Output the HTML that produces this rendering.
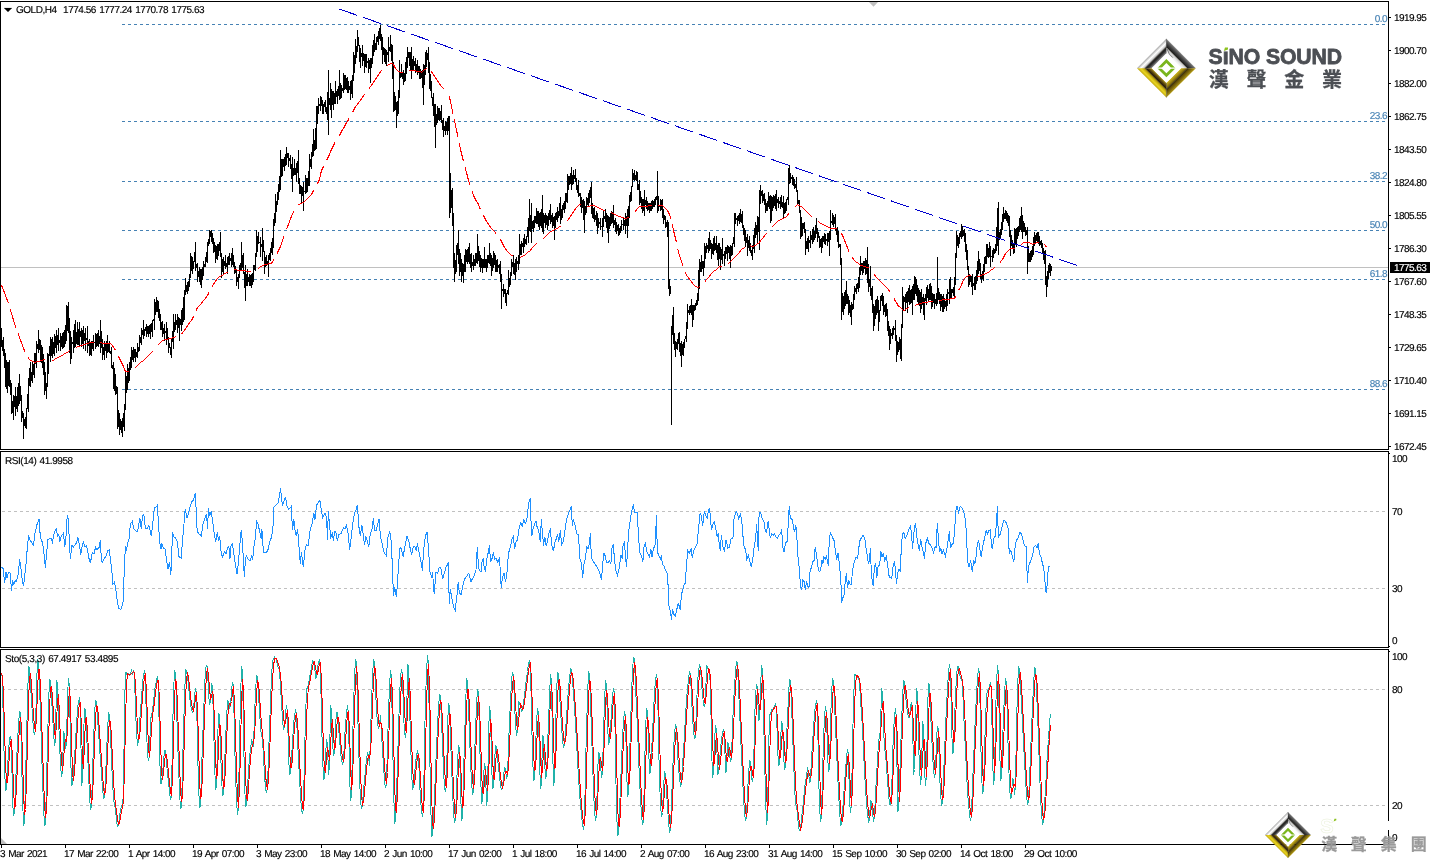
<!DOCTYPE html>
<html lang="en"><head><meta charset="utf-8"><title>GOLD,H4</title>
<style>
html,body{margin:0;padding:0;background:#fff}
body{width:1430px;height:863px;overflow:hidden;position:relative}
svg{position:absolute;left:0;top:0;display:block}
text{font-family:"Liberation Sans",sans-serif}
.cj{font-family:"Liberation Sans","Noto Sans CJK TC",sans-serif}
</style></head>
<body>
<svg width="1430" height="863" viewBox="0 0 1430 863">
<rect width="1430" height="863" fill="#fff"/>
<g shape-rendering="crispEdges" fill="none" stroke="#000" stroke-width="1">
<path d="M0.5 1V450M0 1.5H1389M1388.5 1V450M0 449.5H1389"/>
<path d="M0.5 451V648M0 451.5H1389M1388.5 451V648M0 647.5H1389"/>
<path d="M0.5 649V845M0 649.5H1389M1388.5 649V845M0 844.5H1389"/>
<path d="M1389 17.5H1391M1389 50.5H1391M1389 83.5H1391M1389 116.5H1391M1389 149.5H1391M1389 182.5H1391M1389 215.5H1391M1389 248.5H1391M1389 281.5H1391M1389 314.5H1391M1389 347.5H1391M1389 380.5H1391M1389 413.5H1391M1389 446.5H1391"/>
<path d="M1389 453.5H1390M1389 646.5H1390M1389 651.5H1390"/>
<path d="M1.5 845V848M65.5 845V848M129.5 845V848M193.5 845V848M257.5 845V848M321.5 845V848M385.5 845V848M449.5 845V848M513.5 845V848M577.5 845V848M641.5 845V848M705.5 845V848M769.5 845V848M833.5 845V848M897.5 845V848M961.5 845V848M1025.5 845V848"/>
</g>
<path d="M869 2H878L873.5 6.8Z" fill="#c0c0c0"/>
<path d="M1 838V844H7Z" fill="#c0c0c0"/>
<path d="M1 267.5H1388" stroke="#c0c0c0" stroke-width="1" shape-rendering="crispEdges"/>
<g shape-rendering="crispEdges" stroke="#4682b4" stroke-width="1" stroke-dasharray="3 3">
<path d="M122 24.5H1388"/>
<path d="M122 121.5H1388"/>
<path d="M122 181.5H1388"/>
<path d="M122 230.5H1388"/>
<path d="M122 279.5H1388"/>
<path d="M122 389.5H1388"/>
</g>
<g shape-rendering="crispEdges" stroke="#c0c0c0" stroke-width="1" stroke-dasharray="3 3">
<path d="M2 511.5H1388"/>
<path d="M2 588.5H1388"/>
<path d="M2 689.5H1388"/>
<path d="M2 805.5H1388"/>
</g>
<path d="M1.5 328V347M2.5 340V351M3.5 337V356M4.5 349V368M5.5 353V387M6.5 360V389M7.5 362V393M8.5 362V386M9.5 360V387M10.5 380V395M11.5 383V414M12.5 401V413M13.5 395V420M14.5 396V407M15.5 387V416M16.5 396V409M17.5 387V412M18.5 383V406M19.5 374V404M20.5 386V401M21.5 395V422M22.5 411V418M23.5 413V439M24.5 419V426M25.5 417V428M26.5 408V429M27.5 394V409M28.5 378V412M29.5 368V386M30.5 362V387M31.5 372V381M32.5 362V383M33.5 364V375M34.5 353V378M35.5 353V364M36.5 341V368M37.5 344V349M38.5 330V353M39.5 339V350M40.5 340V362M41.5 345V363M42.5 347V368M43.5 354V375M44.5 362V395M45.5 372V391M46.5 383V399M47.5 353V387M48.5 354V374M49.5 346V356M50.5 337V362M51.5 339V356M52.5 337V358M53.5 342V354M54.5 334V356M55.5 336V348M56.5 330V353M57.5 335V345M58.5 328V351M59.5 340V343M60.5 333V351M61.5 336V347M62.5 333V349M63.5 332V348M64.5 330V347M65.5 325V344M66.5 305V341M67.5 306V331M68.5 302V333M69.5 318V353M70.5 331V364M71.5 337V359M72.5 342V344M73.5 330V353M74.5 324V348M75.5 320V347M76.5 332V344M77.5 322V345M78.5 329V345M79.5 322V347M80.5 331V337M81.5 328V347M82.5 330V344M83.5 326V349M84.5 333V341M85.5 328V351M86.5 338V340M87.5 326V353M88.5 341V346M89.5 339V356M90.5 342V355M91.5 341V356M92.5 341V349M93.5 335V351M94.5 342V343M95.5 333V349M96.5 334V347M97.5 333V346M98.5 330V347M99.5 336V344M100.5 320V353M101.5 331V348M102.5 339V360M103.5 347V355M104.5 341V360M105.5 344V351M106.5 341V358M107.5 335V353M108.5 343V352M109.5 341V353M110.5 351V354M111.5 347V368M112.5 365V369M113.5 362V389M114.5 368V391M115.5 374V395M116.5 386V394M117.5 387V429M118.5 410V427M119.5 413V435M120.5 419V430M121.5 421V433M122.5 418V437M123.5 413V427M124.5 404V431M125.5 370V410M126.5 376V393M127.5 364V390M128.5 368V383M129.5 362V381M130.5 357V370M131.5 347V368M132.5 350V360M133.5 347V362M134.5 349V358M135.5 349V362M136.5 352V357M137.5 343V358M138.5 347V352M139.5 335V351M140.5 337V343M141.5 328V345M142.5 330V335M143.5 320V339M144.5 329V336M145.5 327V331M146.5 324V337M147.5 326V334M148.5 326V337M149.5 325V334M150.5 324V339M151.5 323V332M152.5 320V337M153.5 319V321M154.5 299V330M155.5 302V315M156.5 297V312M157.5 300V312M158.5 301V318M159.5 309V321M160.5 314V330M161.5 322V330M162.5 321V337M163.5 328V334M164.5 324V341M165.5 331V333M166.5 322V345M167.5 328V340M168.5 337V353M169.5 343V348M170.5 347V355M171.5 338V358M172.5 331V342M173.5 314V349M174.5 322V332M175.5 314V330M176.5 320V325M177.5 314V333M178.5 317V328M179.5 318V341M180.5 319V325M181.5 310V331M182.5 308V325M183.5 297V322M184.5 290V320M185.5 278V295M186.5 285V292M187.5 282V294M188.5 281V291M189.5 274V287M190.5 253V278M191.5 256V271M192.5 257V274M193.5 261V269M194.5 252V262M195.5 242V271M196.5 264V268M197.5 263V282M198.5 271V277M199.5 267V282M200.5 269V285M201.5 269V288M202.5 267V280M203.5 261V276M204.5 264V267M205.5 257V267M206.5 252V262M207.5 242V263M208.5 239V246M209.5 230V244M210.5 231V237M211.5 230V242M212.5 233V244M213.5 238V253M214.5 242V252M215.5 245V263M216.5 246V259M217.5 244V260M218.5 244V256M219.5 242V251M220.5 232V257M221.5 253V278M222.5 259V272M223.5 257V274M224.5 261V266M225.5 255V269M226.5 263V267M227.5 257V274M228.5 256V265M229.5 253V265M230.5 258V261M231.5 253V267M232.5 248V265M233.5 255V267M234.5 262V274M235.5 266V273M236.5 269V286M237.5 277V282M238.5 274V289M239.5 265V278M240.5 263V271M241.5 242V270M242.5 255V268M243.5 253V274M244.5 272V288M245.5 265V301M246.5 274V286M247.5 269V286M248.5 277V282M249.5 274V286M250.5 275V286M251.5 274V288M252.5 273V285M253.5 265V282M254.5 265V270M255.5 253V271M256.5 230V257M257.5 236V252M258.5 232V244M259.5 242V243M260.5 237V257M261.5 244V247M262.5 228V261M263.5 240V252M264.5 251V274M265.5 257V267M266.5 255V266M267.5 261V265M268.5 255V277M269.5 253V260M270.5 248V261M271.5 242V253M272.5 238V255M273.5 219V248M274.5 213V226M275.5 194V223M276.5 201V212M277.5 192V205M278.5 184V200M279.5 176V192M280.5 150V190M281.5 159V177M282.5 159V176M283.5 159V167M284.5 157V171M285.5 154V166M286.5 147V165M287.5 153V158M288.5 153V167M289.5 158V161M290.5 155V169M291.5 164V179M292.5 157V192M293.5 168V176M294.5 159V175M295.5 168V175M296.5 163V182M297.5 161V173M298.5 150V184M299.5 178V194M300.5 185V194M301.5 186V203M302.5 187V196M303.5 182V211M304.5 191V192M305.5 175V194M306.5 178V193M307.5 178V192M308.5 171V186M309.5 154V186M310.5 159V167M311.5 152V169M312.5 144V157M313.5 129V156M314.5 140V151M315.5 128V150M316.5 106V149M317.5 106V124M318.5 98V114M319.5 104V106M320.5 96V111M321.5 97V106M322.5 100V114M323.5 104V114M324.5 102V107M325.5 100V112M326.5 107V114M327.5 92V120M328.5 70V135M329.5 98V105M330.5 83V110M331.5 89V118M332.5 91V105M333.5 91V110M334.5 93V104M335.5 81V104M336.5 91V97M337.5 89V104M338.5 86V96M339.5 70V100M340.5 83V99M341.5 85V98M342.5 88V91M343.5 73V93M344.5 75V90M345.5 75V89M346.5 78V90M347.5 77V93M348.5 81V93M349.5 86V90M350.5 81V100M351.5 80V94M352.5 75V98M353.5 52V81M354.5 55V73M355.5 39V64M356.5 46V58M357.5 30V52M358.5 37V46M359.5 45V62M360.5 48V68M361.5 53V57M362.5 45V66M363.5 53V61M364.5 54V73M365.5 54V67M366.5 54V68M367.5 61V63M368.5 58V73M369.5 60V69M370.5 58V83M371.5 58V68M372.5 45V64M373.5 40V56M374.5 34V52M375.5 43V50M376.5 37V50M377.5 36V42M378.5 31V45M379.5 28V39M380.5 25V41M381.5 34V50M382.5 37V64M383.5 47V55M384.5 48V62M385.5 49V64M386.5 50V66M387.5 52V55M388.5 37V62M389.5 47V51M390.5 35V52M391.5 44V61M392.5 45V79M393.5 62V112M394.5 92V111M395.5 96V110M396.5 102V128M397.5 101V116M398.5 90V114M399.5 60V98M400.5 72V78M401.5 64V77M402.5 72V79M403.5 70V85M404.5 73V82M405.5 62V81M406.5 57V74M407.5 47V68M408.5 52V58M409.5 52V66M410.5 52V71M411.5 47V79M412.5 59V70M413.5 56V70M414.5 61V66M415.5 58V73M416.5 64V72M417.5 60V75M418.5 66V73M419.5 66V79M420.5 69V79M421.5 71V78M422.5 70V88M423.5 64V105M424.5 65V85M425.5 52V75M426.5 50V67M427.5 53V60M428.5 47V73M429.5 62V89M430.5 74V91M431.5 81V98M432.5 97V106M433.5 93V116M434.5 104V127M435.5 104V148M436.5 114V125M437.5 106V123M438.5 108V120M439.5 108V121M440.5 111V120M441.5 105V123M442.5 120V130M443.5 118V137M444.5 126V131M445.5 121V135M446.5 122V131M447.5 118V135M448.5 116V131M449.5 116V218M450.5 173V213M451.5 190V208M452.5 188V226M453.5 213V268M454.5 253V282M455.5 260V274M456.5 245V272M457.5 243V255M458.5 230V264M459.5 249V276M460.5 253V272M461.5 259V282M462.5 263V276M463.5 264V283M464.5 255V272M465.5 249V272M466.5 250V262M467.5 249V264M468.5 247V262M469.5 243V264M470.5 254V268M471.5 253V272M472.5 262V266M473.5 255V270M474.5 259V266M475.5 253V266M476.5 253V263M477.5 234V264M478.5 246V261M479.5 251V267M480.5 255V272M481.5 258V268M482.5 259V273M483.5 259V268M484.5 247V268M485.5 259V268M486.5 259V272M487.5 255V268M488.5 255V263M489.5 243V264M490.5 253V266M491.5 255V276M492.5 258V271M493.5 251V268M494.5 253V265M495.5 255V272M496.5 260V272M497.5 259V272M498.5 265V268M499.5 264V274M500.5 261V282M501.5 274V309M502.5 289V291M503.5 284V297M504.5 289V294M505.5 289V303M506.5 293V306M507.5 290V294M508.5 270V295M509.5 278V287M510.5 272V285M511.5 259V276M512.5 262V267M513.5 255V274M514.5 263V275M515.5 259V280M516.5 257V272M517.5 261V264M518.5 255V270M519.5 234V264M520.5 244V255M521.5 241V255M522.5 243V247M523.5 238V253M524.5 234V247M525.5 239V244M526.5 236V245M527.5 227V237M528.5 218V243M529.5 199V231M530.5 215V232M531.5 203V243M532.5 221V229M533.5 220V232M534.5 216V228M535.5 216V223M536.5 208V224M537.5 211V224M538.5 211V227M539.5 213V230M540.5 212V226M541.5 209V228M542.5 195V232M543.5 213V234M544.5 215V223M545.5 213V228M546.5 215V225M547.5 216V230M548.5 213V226M549.5 210V220M550.5 204V224M551.5 215V222M552.5 213V228M553.5 217V226M554.5 216V240M555.5 213V228M556.5 212V220M557.5 207V222M558.5 211V218M559.5 203V216M560.5 197V224M561.5 209V220M562.5 205V218M563.5 203V210M564.5 201V213M565.5 193V209M566.5 193V202M567.5 174V203M568.5 176V190M569.5 176V185M570.5 173V184M571.5 167V190M572.5 175V185M573.5 170V184M574.5 175V179M575.5 169V182M576.5 178V190M577.5 185V193M578.5 180V197M579.5 193V196M580.5 193V207M581.5 197V213M582.5 200V208M583.5 199V220M584.5 201V233M585.5 206V215M586.5 197V213M587.5 198V205M588.5 193V207M589.5 190V203M590.5 187V198M591.5 182V214M592.5 203V218M593.5 208V219M594.5 207V222M595.5 215V220M596.5 211V226M597.5 213V234M598.5 218V228M599.5 222V224M600.5 218V230M601.5 226V227M602.5 218V237M603.5 211V227M604.5 216V219M605.5 209V222M606.5 213V228M607.5 215V233M608.5 216V243M609.5 217V229M610.5 213V226M611.5 211V224M612.5 212V223M613.5 205V228M614.5 220V225M615.5 218V232M616.5 222V234M617.5 225V231M618.5 224V236M619.5 228V235M620.5 226V233M621.5 220V231M622.5 224V225M623.5 218V230M624.5 220V226M625.5 213V234M626.5 216V226M627.5 209V238M628.5 206V226M629.5 195V218M630.5 192V202M631.5 186V201M632.5 169V187M633.5 173V180M634.5 170V181M635.5 175V180M636.5 171V181M637.5 172V190M638.5 184V190M639.5 180V205M640.5 191V203M641.5 197V209M642.5 199V213M643.5 199V211M644.5 190V216M645.5 200V205M646.5 197V209M647.5 201V211M648.5 203V210M649.5 203V213M650.5 203V211M651.5 201V211M652.5 200V209M653.5 201V207M654.5 199V207M655.5 197V205M656.5 196V200M657.5 171V213M658.5 196V211M659.5 206V207M660.5 199V211M661.5 200V210M662.5 199V218M663.5 209V224M664.5 215V220M665.5 216V228M666.5 222V227M667.5 220V237M668.5 222V289M669.5 279V296M670.5 286V294M671.5 326V425M672.5 315V335M673.5 307V344M674.5 333V350M675.5 341V357M676.5 342V349M677.5 339V350M678.5 333V344M679.5 332V352M680.5 343V356M681.5 341V367M682.5 344V355M683.5 342V356M684.5 339V348M685.5 336V339M686.5 322V342M687.5 304V329M688.5 310V313M689.5 306V315M690.5 305V313M691.5 299V315M692.5 305V327M693.5 305V320M694.5 305V311M695.5 303V310M696.5 300V306M697.5 293V305M698.5 270V301M699.5 259V289M700.5 262V272M701.5 255V272M702.5 261V269M703.5 261V276M704.5 243V268M705.5 246V259M706.5 243V253M707.5 245V249M708.5 238V253M709.5 232V251M710.5 240V249M711.5 243V259M712.5 244V254M713.5 238V255M714.5 236V251M715.5 243V250M716.5 236V253M717.5 245V260M718.5 243V266M719.5 243V259M720.5 247V270M721.5 249V260M722.5 238V264M723.5 254V256M724.5 251V266M725.5 247V259M726.5 247V254M727.5 245V261M728.5 246V253M729.5 247V259M730.5 245V268M731.5 246V256M732.5 243V255M733.5 237V244M734.5 213V247M735.5 213V224M736.5 218V220M737.5 216V226M738.5 215V221M739.5 213V224M740.5 209V222M741.5 214V223M742.5 211V228M743.5 225V235M744.5 228V241M745.5 230V247M746.5 237V243M747.5 234V256M748.5 240V248M749.5 236V251M750.5 243V253M751.5 250V256M752.5 245V260M753.5 235V249M754.5 228V253M755.5 222V238M756.5 225V235M757.5 216V243M758.5 217V232M759.5 190V250M760.5 185V204M761.5 191V196M762.5 190V203M763.5 194V201M764.5 193V205M765.5 199V213M766.5 203V211M767.5 201V211M768.5 192V207M769.5 196V209M770.5 195V223M771.5 196V221M772.5 197V211M773.5 195V208M774.5 196V206M775.5 194V209M776.5 190V211M777.5 199V203M778.5 197V208M779.5 201V204M780.5 197V209M781.5 195V207M782.5 202V208M783.5 196V218M784.5 203V214M785.5 202V213M786.5 199V211M787.5 197V200M788.5 168V205M789.5 165V184M790.5 173V183M791.5 177V179M792.5 175V185M793.5 177V186M794.5 179V189M795.5 184V188M796.5 177V192M797.5 190V204M798.5 200V204M799.5 200V213M800.5 210V239M801.5 217V237M802.5 223V236M803.5 223V229M804.5 222V233M805.5 229V255M806.5 241V249M807.5 238V249M808.5 236V252M809.5 240V243M810.5 231V248M811.5 235V240M812.5 229V244M813.5 227V242M814.5 231V240M815.5 225V238M816.5 218V234M817.5 228V242M818.5 232V238M819.5 236V248M820.5 239V247M821.5 238V253M822.5 236V248M823.5 236V242M824.5 233V244M825.5 234V245M826.5 239V241M827.5 233V246M828.5 233V242M829.5 231V256M830.5 210V240M831.5 221V223M832.5 213V225M833.5 215V227M834.5 217V224M835.5 214V231M836.5 228V235M837.5 227V242M838.5 231V248M839.5 244V247M840.5 244V265M841.5 258V320M842.5 293V312M843.5 296V315M844.5 292V309M845.5 290V306M846.5 281V304M847.5 294V304M848.5 296V315M849.5 300V313M850.5 305V317M851.5 302V325M852.5 304V310M853.5 294V309M854.5 286V300M855.5 288V292M856.5 284V294M857.5 283V289M858.5 277V292M859.5 267V288M860.5 256V275M861.5 263V271M862.5 263V275M863.5 261V273M864.5 261V269M865.5 258V275M866.5 260V274M867.5 247V283M868.5 264V292M869.5 279V287M870.5 266V296M871.5 288V300M872.5 286V313M873.5 304V331M874.5 306V326M875.5 300V319M876.5 299V315M877.5 296V313M878.5 300V331M879.5 310V322M880.5 296V311M881.5 295V301M882.5 293V306M883.5 296V315M884.5 305V312M885.5 304V317M886.5 303V316M887.5 309V331M888.5 321V336M889.5 326V350M890.5 329V344M891.5 333V336M892.5 328V339M893.5 326V335M894.5 328V330M895.5 320V341M896.5 335V362M897.5 341V355M898.5 342V352M899.5 337V350M900.5 339V359M901.5 324V361M902.5 287V328M903.5 296V311M904.5 297V302M905.5 294V311M906.5 292V303M907.5 291V313M908.5 288V302M909.5 285V305M910.5 290V304M911.5 289V303M912.5 286V315M913.5 284V300M914.5 276V300M915.5 277V294M916.5 279V296M917.5 285V302M918.5 288V305M919.5 290V306M920.5 292V313M921.5 289V309M922.5 297V305M923.5 294V315M924.5 298V320M925.5 294V301M926.5 287V305M927.5 285V298M928.5 289V302M929.5 284V300M930.5 283V300M931.5 286V309M932.5 293V307M933.5 294V303M934.5 294V309M935.5 299V304M936.5 293V306M937.5 257V304M938.5 288V300M939.5 292V304M940.5 294V311M941.5 294V307M942.5 296V312M943.5 294V312M944.5 298V309M945.5 301V307M946.5 294V311M947.5 289V306M948.5 292V294M949.5 279V304M950.5 277V298M951.5 289V298M952.5 289V293M953.5 287V296M954.5 277V299M955.5 253V285M956.5 231V258M957.5 235V246M958.5 237V248M959.5 233V244M960.5 231V237M961.5 224V239M962.5 226V237M963.5 230V236M964.5 229V242M965.5 233V252M966.5 244V260M967.5 250V270M968.5 266V287M969.5 274V285M970.5 275V282M971.5 276V287M972.5 274V295M973.5 283V286M974.5 277V290M975.5 276V290M976.5 270V284M977.5 261V281M978.5 251V274M979.5 259V271M980.5 263V279M981.5 274V283M982.5 271V279M983.5 264V281M984.5 257V272M985.5 256V264M986.5 244V264M987.5 244V257M988.5 248V258M989.5 242V257M990.5 246V267M991.5 256V257M992.5 250V262M993.5 248V258M994.5 249V254M995.5 244V253M996.5 227V251M997.5 208V246M998.5 202V255M999.5 232V240M1000.5 229V238M1001.5 222V235M1002.5 214V230M1003.5 207V222M1004.5 213V219M1005.5 210V219M1006.5 211V221M1007.5 213V223M1008.5 215V226M1009.5 216V237M1010.5 230V256M1011.5 235V246M1012.5 240V248M1013.5 243V254M1014.5 228V253M1015.5 229V244M1016.5 228V247M1017.5 227V239M1018.5 226V236M1019.5 218V232M1020.5 216V230M1021.5 207V232M1022.5 215V239M1023.5 221V232M1024.5 223V232M1025.5 227V236M1026.5 230V235M1027.5 227V274M1028.5 246V262M1029.5 253V262M1030.5 251V262M1031.5 250V260M1032.5 246V257M1033.5 237V255M1034.5 232V246M1035.5 235V243M1036.5 233V241M1037.5 232V243M1038.5 232V244M1039.5 236V246M1040.5 241V245M1041.5 240V248M1042.5 243V253M1043.5 248V260M1044.5 251V264M1045.5 250V285M1046.5 276V297M1047.5 271V287M1048.5 265V279M1049.5 263V273M1050.5 264V276M1051.5 266V271" stroke="#000" stroke-width="1" fill="none" shape-rendering="crispEdges"/>
<path d="M1.5 285.5L2.5 287.5L3.5 290.5L4.5 292.5L5.5 295.5L6.5 298.5L7.5 300.5L8.5 303.5M10.2 309.5L10.5 310.5L11.5 313.5L12.5 316.5L13.5 320.5L14.5 323.5L15.5 326.5L15.8 327.5M18.0 333.5L18.5 334.5L19.5 337.5L20.5 340.5L21.5 342.5L22.5 345.5L23.5 348.5L24.5 350.5L25.0 351.5M28.0 357.5L28.5 358.5L29.5 359.5L30.5 360.5L31.5 360.5L32.5 361.5L33.5 361.5L34.5 362.5L35.5 362.5L36.5 361.5L37.5 361.5L38.5 361.5L39.5 361.5L40.5 360.5L41.5 360.5L42.5 360.5L43.5 359.5L44.5 359.5L45.5 360.5M51.5 361.5L52.5 360.5L53.5 360.5L54.5 359.5L55.5 358.5L56.5 358.5L57.5 357.5L58.5 357.5L59.5 356.5L60.5 356.5L61.5 355.5L62.5 355.5L63.5 354.5L64.5 353.5L65.5 353.5L66.5 352.5L67.5 352.5L68.5 351.5L69.5 350.5M75.5 347.5L76.5 347.5L77.5 346.5L78.5 346.5L79.5 346.5L80.5 345.5L81.5 345.5L82.5 345.5L83.5 344.5L84.5 344.5L85.5 344.5L86.5 343.5L87.5 343.5L88.5 343.5L89.5 342.5L90.5 342.5L91.5 342.5L92.5 342.5L93.5 342.5M99.5 342.5L100.5 342.5L101.5 342.5L102.5 343.5L103.5 343.5L104.5 343.5L105.5 343.5L106.5 343.5L107.5 343.5L108.5 343.5L109.5 343.5L110.5 343.5L111.5 344.5L112.5 345.5L113.5 347.5L114.5 348.5L115.5 350.5M118.5 356.5L119.5 358.5L120.5 360.5L121.5 362.5L122.5 364.5L123.5 366.5L124.5 369.5L125.5 371.5L126.5 371.5L127.5 371.5L128.5 371.5M134.5 368.5L135.5 367.5L136.5 366.5L137.5 365.5L138.5 364.5L139.5 363.5L140.5 362.5L141.5 361.5L142.5 361.5L143.5 360.5L144.5 359.5L145.5 358.5L146.5 357.5L147.5 356.5L148.5 355.5L149.5 354.5L150.5 353.5L151.5 352.5L152.5 351.5M157.5 345.5L158.5 344.5L159.5 343.5L160.5 342.5L161.5 341.5L162.5 340.5L163.5 340.5L164.5 339.5L165.5 339.5L166.5 339.5L167.5 339.5L168.5 338.5L169.5 338.5L170.5 338.5L171.5 338.5L172.5 337.5L173.5 337.5L174.5 337.5L175.5 336.5M181.5 334.5L182.5 332.5L183.5 331.5L184.5 330.5L185.5 328.5L186.5 327.5L187.5 325.5L188.5 324.5L189.5 322.5L190.5 321.5L191.5 320.5L192.5 318.5L193.5 316.5M196.2 310.5L196.5 309.5L197.5 307.5L198.5 306.5L199.5 305.5L200.5 304.5L201.5 303.5L202.5 301.5L203.5 300.5L204.5 299.5L205.5 298.5L206.5 296.5L207.5 295.5L208.5 293.5L209.0 292.5M212.0 286.5L212.5 285.5L213.5 284.5L214.5 282.5L215.5 281.5L216.5 279.5L217.5 278.5L218.5 277.5L219.5 276.5L220.5 276.5L221.5 275.5L222.5 275.5L223.5 274.5L224.5 273.5L225.5 273.5L226.5 272.5L227.5 272.5M233.5 269.5L234.5 269.5L235.5 269.5L236.5 269.5L237.5 270.5L238.5 270.5L239.5 270.5L240.5 270.5L241.5 270.5L242.5 270.5L243.5 270.5L244.5 270.5L245.5 270.5L246.5 271.5L247.5 271.5L248.5 271.5L249.5 271.5L250.5 271.5L251.5 272.5M257.5 269.5L258.5 268.5L259.5 267.5L260.5 266.5L261.5 266.5L262.5 265.5L263.5 265.5L264.5 264.5L265.5 264.5L266.5 264.5L267.5 264.5L268.5 263.5L269.5 263.5L270.5 263.5L271.5 263.5L272.5 261.5L273.5 260.5L274.0 259.5M277.0 253.5L277.5 252.5L278.5 250.5L279.5 248.5L280.5 246.5L281.5 243.5L282.5 240.5L283.5 237.5L284.2 235.5M286.5 229.5L287.5 226.5L288.5 224.5L289.5 221.5L290.5 218.5L291.5 216.5L292.5 213.5L293.5 212.5L294.0 211.5M297.5 205.5L298.5 204.5L299.5 204.5L300.5 203.5L301.5 203.5L302.5 202.5L303.5 202.5L304.5 201.5L305.5 200.5L306.5 199.5L307.5 198.5L308.5 197.5L309.5 196.5L310.5 195.5L311.5 194.5L312.5 192.5L313.5 190.5M316.5 184.5L317.5 183.5L318.5 181.5L319.5 179.5L320.5 174.5L321.5 170.5L322.5 168.5L323.5 166.5M326.5 160.5L327.5 158.5L328.5 156.5L329.5 154.5L330.5 151.5L331.5 149.5L332.5 147.5L333.5 145.5L334.5 143.5L335.0 142.5M338.5 136.5L339.5 135.5L340.5 133.5L341.5 131.5L342.5 129.5L343.5 128.5L344.5 126.5L345.5 124.5L346.5 122.5L347.5 121.5L348.5 119.5L349.0 118.5M352.5 112.5L353.5 110.5L354.5 108.5L355.5 106.5L356.5 105.5L357.5 104.5L358.5 102.5L359.5 101.5L360.5 100.5L361.5 98.5L362.5 97.5L363.5 95.5L364.5 94.5M369.0 88.5L369.5 87.5L370.5 86.5L371.5 85.5L372.5 83.5L373.5 82.5L374.5 80.5L375.5 79.5L376.5 77.5L377.5 76.5L378.5 74.5L379.5 73.5L380.5 71.5L381.5 70.5M386.5 65.5L387.5 65.5L388.5 64.5L389.5 64.5L390.5 63.5L391.5 63.5L392.5 63.5L393.5 64.5L394.5 66.5L395.5 68.5L396.5 69.5L397.5 70.5L398.5 71.5L399.5 71.5L400.5 72.5L401.5 72.5L402.5 72.5M408.5 71.5L409.5 70.5L410.5 70.5L411.5 70.5L412.5 70.5L413.5 70.5L414.5 70.5L415.5 70.5L416.5 71.5L417.5 71.5L418.5 71.5L419.5 71.5L420.5 71.5L421.5 72.5L422.5 71.5L423.5 70.5L424.5 69.5L425.5 69.5L426.5 68.5M431.5 71.5L432.5 73.5L433.5 74.5L434.5 76.5L435.5 77.5L436.5 79.5L437.5 80.5L438.5 82.5L439.5 83.5L440.5 85.5L441.5 86.5L442.5 87.5L443.5 88.5L444.5 89.5M448.8 95.5L449.5 97.5L450.5 101.5L451.5 106.5L452.5 111.5L453.0 113.5M454.3 119.5L454.5 120.5L455.5 125.5L456.5 130.5L457.5 134.5L458.1 137.5M459.3 143.5L459.5 144.5L460.5 149.5L461.5 153.5L462.5 157.5L463.5 161.5M465.0 167.5L465.5 169.5L466.5 172.5L467.5 176.5L468.5 180.5L469.5 183.5L470.2 185.5M472.2 191.5L472.5 192.5L473.5 195.5L474.5 197.5L475.5 199.5L476.5 201.5L477.5 202.5L478.5 204.5L479.5 207.5L480.5 209.5M483.5 215.5L484.5 217.5L485.5 219.5L486.5 221.5L487.5 222.5L488.5 224.5L489.5 225.5L490.5 227.5L491.5 228.5L492.5 229.5L493.5 230.5L494.5 231.5L495.5 232.5L496.0 233.5M500.5 239.5L501.5 241.5L502.5 243.5L503.5 245.5L504.5 247.5L505.5 248.5L506.5 250.5L507.5 251.5L508.5 252.5L509.5 253.5L510.5 254.5L511.5 255.5L512.5 255.5L513.5 256.5M519.5 257.5L520.5 257.5L521.5 256.5L522.5 256.5L523.5 255.5L524.5 255.5L525.5 254.5L526.5 253.5L527.5 252.5L528.5 251.5L529.5 251.5L530.5 250.5L531.5 248.5L532.5 247.5L533.5 246.5L534.5 245.5L535.5 244.5L536.5 243.5M542.5 238.5L543.5 238.5L544.5 237.5L545.5 236.5L546.5 235.5L547.5 234.5L548.5 233.5L549.5 232.5L550.5 231.5L551.5 231.5L552.5 230.5L553.5 230.5L554.5 229.5L555.5 229.5L556.5 228.5L557.5 228.5L558.5 227.5L559.5 226.5L560.5 226.5M566.5 221.5L567.5 220.5L568.5 219.5L569.5 217.5L570.5 216.5L571.5 214.5L572.5 213.5L573.5 211.5L574.5 210.5L575.5 208.5L576.5 207.5L577.5 206.5L578.5 205.5L579.5 204.5L580.5 204.5M586.5 206.5L587.5 206.5L588.5 206.5L589.5 206.5L590.5 205.5L591.5 205.5L592.5 205.5L593.5 205.5L594.5 205.5L595.5 206.5L596.5 206.5L597.5 207.5L598.5 207.5L599.5 208.5L600.5 208.5L601.5 209.5L602.5 209.5L603.5 210.5L604.5 210.5M610.5 212.5L611.5 212.5L612.5 213.5L613.5 213.5L614.5 214.5L615.5 214.5L616.5 215.5L617.5 215.5L618.5 216.5L619.5 216.5L620.5 216.5L621.5 217.5L622.5 217.5L623.5 217.5L624.5 218.5L625.5 218.5L626.5 218.5L627.5 217.5L628.5 217.5M634.5 212.5L635.5 211.5L636.5 209.5L637.5 208.5L638.5 207.5L639.5 206.5L640.5 206.5L641.5 206.5L642.5 206.5L643.5 206.5L644.5 206.5L645.5 206.5L646.5 206.5L647.5 206.5L648.5 205.5L649.5 205.5L650.5 205.5L651.5 205.5M657.5 205.5L658.5 205.5L659.5 205.5L660.5 205.5L661.5 205.5L662.5 205.5L663.5 206.5L664.5 207.5L665.5 208.5L666.5 209.5L667.5 210.5L668.5 212.5L669.5 214.5L670.5 217.5L671.0 218.5M672.5 224.5L673.5 230.5L674.5 234.5L675.5 238.5L676.5 242.5M677.8 248.5L678.5 252.5L679.5 255.5L680.5 258.5L681.5 261.5L682.5 264.5L683.2 266.5M685.5 272.5L686.5 275.5L687.5 276.5L688.5 277.5L689.5 279.5L690.5 280.5L691.5 281.5L692.5 283.5L693.5 284.5L694.5 285.5L695.5 286.5L696.5 286.5L697.5 287.5L698.5 287.5L699.5 286.5M705.0 281.5L705.5 280.5L706.5 279.5L707.5 278.5L708.5 277.5L709.5 276.5L710.5 274.5L711.5 273.5L712.5 272.5L713.5 271.5L714.5 270.5L715.5 270.5L716.5 269.5L717.5 268.5L718.5 267.5L719.5 266.5L720.5 266.5L721.5 266.5M727.5 263.5L728.5 263.5L729.5 262.5L730.5 261.5L731.5 260.5L732.5 259.5L733.5 258.5L734.5 257.5L735.5 256.5L736.5 255.5L737.5 254.5L738.5 253.5L739.5 252.5L740.5 250.5L741.5 249.5L742.5 248.5L743.5 248.5L744.5 247.5M750.5 245.5L751.5 246.5L752.5 246.5L753.5 246.5L754.5 245.5L755.5 245.5L756.5 244.5L757.5 243.5L758.5 243.5L759.5 242.5L760.5 240.5L761.5 239.5L762.5 238.5L763.5 237.5L764.5 235.5L765.5 234.5L766.5 233.5M771.5 227.5L772.5 226.5L773.5 225.5L774.5 224.5L775.5 223.5L776.5 222.5L777.5 221.5L778.5 220.5L779.5 220.5L780.5 219.5L781.5 219.5L782.5 218.5L783.5 218.5L784.5 217.5L785.5 217.5L786.5 216.5L787.5 215.5L788.5 213.5M794.5 207.5L795.5 206.5L796.5 205.5L797.5 204.5L798.5 205.5L799.5 205.5L800.5 206.5L801.5 206.5L802.5 207.5L803.5 208.5L804.5 209.5L805.5 210.5L806.5 211.5L807.5 212.5L808.5 213.5L809.5 214.5L810.5 215.5L811.5 216.5L812.5 217.5M818.5 221.5L819.5 222.5L820.5 223.5L821.5 223.5L822.5 224.5L823.5 224.5L824.5 225.5L825.5 225.5L826.5 226.5L827.5 226.5L828.5 227.5L829.5 227.5L830.5 228.5L831.5 228.5L832.5 228.5L833.5 228.5L834.5 228.5L835.5 228.5L836.5 228.5M841.5 233.5L842.5 235.5L843.5 237.5L844.5 240.5L845.5 242.5L846.5 245.5L847.5 247.5L848.5 250.5L849.0 251.5M852.5 257.5L853.5 259.5L854.5 260.5L855.5 261.5L856.5 262.5L857.5 262.5L858.5 263.5L859.5 264.5L860.5 265.5L861.5 265.5L862.5 265.5L863.5 266.5L864.5 266.5L865.5 266.5L866.5 267.5L867.5 267.5L868.5 267.5L869.5 268.5M874.5 274.5L875.5 276.5L876.5 277.5L877.5 278.5L878.5 279.5L879.5 280.5L880.5 281.5L881.5 282.5L882.5 283.5L883.5 284.5L884.5 285.5L885.5 286.5L886.5 287.5L887.5 288.5L888.5 289.5L889.5 291.5L890.5 292.5M894.0 298.5L894.5 299.5L895.5 301.5L896.5 302.5L897.5 304.5L898.5 306.5L899.5 306.5L900.5 307.5L901.5 308.5L902.5 309.5L903.5 310.5L904.5 310.5L905.5 309.5L906.5 308.5L907.5 308.5L908.5 307.5M914.5 305.5L915.5 305.5L916.5 304.5L917.5 304.5L918.5 304.5L919.5 303.5L920.5 303.5L921.5 303.5L922.5 302.5L923.5 302.5L924.5 302.5L925.5 302.5L926.5 302.5L927.5 302.5L928.5 301.5L929.5 301.5L930.5 301.5L931.5 301.5L932.5 301.5M938.5 300.5L939.5 300.5L940.5 300.5L941.5 300.5L942.5 299.5L943.5 299.5L944.5 299.5L945.5 299.5L946.5 299.5L947.5 299.5L948.5 299.5L949.5 299.5L950.5 298.5L951.5 298.5L952.5 298.5L953.5 298.5L954.5 298.5L955.5 296.5M958.5 290.5L959.5 288.5L960.5 287.5L961.5 284.5L962.5 282.5L963.5 279.5L964.5 278.5L965.5 277.5L966.5 276.5L967.5 276.5L968.5 275.5L969.5 275.5L970.5 275.5M976.5 276.5L977.5 276.5L978.5 276.5L979.5 276.5L980.5 275.5L981.5 275.5L982.5 274.5L983.5 274.5L984.5 274.5L985.5 273.5L986.5 273.5L987.5 272.5L988.5 272.5L989.5 271.5L990.5 270.5L991.5 269.5L992.5 269.5L993.5 268.5L994.5 267.5M1000.0 262.5L1000.5 261.5L1001.5 260.5L1002.5 259.5L1003.5 257.5L1004.5 255.5L1005.5 253.5L1006.5 252.5L1007.5 251.5L1008.5 250.5L1009.5 249.5L1010.5 248.5L1011.5 248.5L1012.5 248.5L1013.5 248.5L1014.5 248.5M1020.5 244.5L1021.5 244.5L1022.5 243.5L1023.5 242.5L1024.5 242.5L1025.5 242.5L1026.5 242.5L1027.5 242.5L1028.5 242.5L1029.5 242.5L1030.5 243.5L1031.5 243.5L1032.5 244.5L1033.5 243.5L1034.5 243.5L1035.5 243.5L1036.5 242.5L1037.5 242.5L1038.5 242.5M1044.5 244.5L1045.5 245.5L1046.5 247.5" fill="none" stroke="#ff0000" stroke-width="1" shape-rendering="crispEdges"/>
<path d="M339 9L1077 265.5" stroke="#0000cd" stroke-width="1" stroke-dasharray="19 6.4" fill="none" shape-rendering="crispEdges"/>
<polyline points="1.3,567.4 3.0,568.2 4.7,582.5 5.9,571.6 7.1,578.3 8.4,572.4 10.4,573.3 11.4,590.9 12.6,581.7 13.8,584.2 15.1,580.8 16.5,581.7 18.2,574.1 19.7,559.3 21.0,569.1 22.4,580.8 23.5,586.2 25.2,571.6 26.6,559.0 27.4,544.7 28.6,536.6 30.3,540.5 31.9,543.0 33.6,545.5 34.8,533.8 37.0,524.5 39.2,518.7 40.3,537.1 41.5,539.7 42.9,544.7 44.0,553.9 45.4,567.7 46.7,552.3 47.9,539.7 49.6,538.8 50.9,538.0 52.4,542.2 53.8,534.6 56.3,527.9 57.6,537.1 58.8,533.8 59.7,542.2 61.3,536.3 63.5,532.9 64.7,547.2 66.1,535.5 66.9,519.5 67.9,515.6 68.9,532.1 70.3,559.0 71.9,545.5 73.4,547.2 75.0,544.7 76.5,543.0 77.8,537.1 79.3,543.9 80.7,554.8 82.4,544.7 83.5,542.5 84.9,546.4 86.6,545.5 87.9,552.3 89.1,559.0 90.3,563.2 92.4,552.3 94.1,553.9 95.5,547.2 97.1,549.7 99.2,547.2 100.5,539.7 101.3,560.7 102.5,562.4 104.2,558.2 105.9,556.5 107.6,550.6 109.2,549.7 110.6,560.7 111.8,570.8 112.9,584.2 114.3,582.5 115.6,587.6 116.8,597.6 118.5,608.1 120.2,609.4 121.3,608.6 123.2,601.0 124.0,577.5 124.7,557.3 125.7,546.4 126.4,550.6 127.7,543.0 129.1,538.8 130.3,524.5 132.3,521.2 133.6,528.7 135.3,530.4 137.0,532.1 138.2,528.7 139.8,517.8 141.2,528.7 142.5,516.1 143.9,514.5 145.4,528.7 147.1,528.7 148.7,525.4 150.1,530.4 151.3,536.3 152.6,525.4 154.3,507.7 156.3,506.9 157.5,505.2 158.3,522.0 159.7,542.2 161.0,548.9 161.8,543.0 163.4,548.1 165.0,548.6 166.4,559.0 168.1,569.1 169.4,562.4 170.9,574.5 171.8,550.6 172.6,532.4 173.9,537.1 175.6,538.0 177.3,541.3 179.0,556.5 181.2,558.2 182.4,542.2 184.0,523.7 185.2,508.6 186.9,517.8 188.2,514.5 189.9,507.7 191.6,501.8 193.3,500.5 195.3,493.4 196.3,511.9 197.0,527.9 198.3,533.8 200.0,534.6 201.3,536.3 203.0,523.7 204.7,519.5 206.4,513.6 207.6,528.7 208.4,507.7 209.6,516.1 211.3,511.1 212.6,521.2 214.3,533.8 215.6,542.2 217.3,532.4 218.5,539.7 219.7,537.1 221.0,550.6 222.4,557.6 223.5,553.9 224.9,551.4 226.1,553.9 227.7,547.2 228.9,546.4 229.9,559.0 231.1,544.7 232.4,543.5 233.6,552.3 235.3,564.0 237.0,574.1 238.3,564.0 239.5,548.9 240.6,535.5 241.4,529.6 242.6,545.5 244.3,576.6 245.5,559.0 246.3,555.6 248.2,559.0 249.8,561.0 251.5,556.5 252.7,559.0 253.9,546.4 255.2,538.8 256.6,521.2 258.2,524.5 259.4,530.4 261.1,538.8 261.9,528.7 262.8,543.9 263.9,552.3 266.1,552.8 267.8,550.6 269.5,542.2 271.2,538.0 272.9,528.7 274.0,506.9 275.7,505.2 277.9,503.5 279.6,495.1 280.6,488.1 281.3,496.8 282.4,505.2 283.8,501.8 285.5,496.8 287.1,506.1 288.8,509.4 291.3,506.4 292.5,530.4 293.9,519.5 295.2,532.1 296.4,536.3 297.6,528.7 298.9,545.5 300.3,564.0 301.4,552.3 303.4,567.4 304.8,550.6 306.5,544.7 308.2,545.5 310.3,528.7 312.4,522.9 313.7,512.8 314.9,519.5 316.6,505.2 318.2,502.7 319.9,500.5 321.6,511.9 322.8,517.8 325.0,512.8 326.6,517.8 327.5,539.7 328.3,510.6 329.5,525.4 330.8,537.1 332.5,533.4 333.4,541.3 334.5,531.3 335.9,532.1 337.2,540.5 338.9,534.6 340.9,533.8 343.4,527.9 345.1,528.7 346.5,525.4 348.2,533.8 349.7,550.3 351.3,536.3 353.0,522.0 354.4,513.6 356.1,509.4 357.4,505.2 359.1,528.7 360.3,535.5 361.9,525.4 363.3,535.5 364.5,544.7 365.8,537.1 367.0,539.7 368.7,547.2 370.3,533.8 372.0,528.7 373.4,518.3 374.5,530.4 376.2,530.4 377.9,523.7 379.1,519.0 380.4,535.5 382.1,543.9 384.3,553.1 386.3,555.6 388.0,537.1 389.7,531.3 391.3,542.2 392.7,574.1 393.4,596.0 394.7,586.7 396.4,596.8 397.6,580.8 398.9,560.7 400.1,547.2 401.4,548.9 403.1,556.5 404.8,547.2 407.0,536.3 408.5,539.7 409.8,546.4 411.5,554.8 413.2,547.2 414.9,546.4 416.2,550.6 417.4,543.5 419.1,552.3 420.8,560.7 422.4,570.8 423.6,550.6 425.3,536.3 427.0,532.1 428.3,546.4 430.0,571.6 431.7,577.5 432.5,571.6 434.2,594.3 435.9,572.4 437.6,573.3 439.2,567.4 440.9,568.2 442.6,579.2 444.3,573.3 446.0,567.4 448.2,563.2 449.3,603.5 450.2,589.2 451.5,596.0 453.5,606.9 455.2,610.3 456.9,596.0 458.2,582.5 459.4,593.4 461.1,594.3 462.8,585.9 464.5,579.2 467.0,575.8 468.7,573.3 470.0,577.5 470.9,581.7 472.6,578.3 474.3,575.8 476.0,569.9 477.3,547.2 478.5,567.4 479.8,570.8 481.0,571.6 482.2,560.7 483.2,558.2 484.4,569.1 485.5,570.8 486.9,559.0 488.6,550.6 489.4,545.5 490.6,562.4 491.9,559.0 493.3,552.6 494.5,559.0 496.1,558.2 497.8,562.4 499.5,557.3 501.2,587.6 502.4,577.5 504.0,573.3 505.4,581.7 506.7,576.6 508.4,553.9 510.4,546.4 512.1,538.8 513.4,536.3 514.6,548.9 515.8,542.2 517.5,539.7 519.2,527.9 520.8,522.9 522.2,526.2 523.9,519.5 525.2,523.7 526.9,519.5 528.6,503.5 530.3,498.2 530.9,518.7 531.8,536.3 533.1,528.7 534.8,523.7 536.0,521.2 537.3,527.9 538.7,530.4 540.3,542.2 541.3,519.5 542.7,535.5 543.5,545.5 544.9,537.1 546.2,546.4 547.4,541.3 549.1,532.1 550.4,529.6 551.6,543.9 553.3,551.4 555.0,542.2 556.6,538.0 557.5,533.8 558.8,542.2 560.3,530.4 561.7,544.7 563.4,541.3 565.0,530.4 566.7,518.7 568.4,513.6 570.1,509.4 571.3,506.1 572.3,526.2 573.4,519.5 575.1,525.4 576.8,533.8 578.2,534.6 579.3,547.2 580.2,561.5 581.3,562.4 582.7,577.5 584.0,564.0 585.2,559.0 586.9,547.2 588.1,548.9 589.4,543.0 590.4,533.4 591.4,558.2 592.8,560.7 594.5,563.2 596.1,565.7 598.2,569.1 599.8,573.3 601.5,579.5 602.9,562.4 604.0,552.6 605.4,556.5 606.6,562.4 608.2,562.4 609.6,560.7 610.9,564.0 612.1,546.4 613.3,544.7 614.6,560.7 616.0,570.8 617.5,575.5 619.3,567.4 621.0,554.8 622.2,559.0 623.0,546.4 624.4,541.3 625.5,557.3 626.6,567.4 627.6,548.1 628.6,532.1 629.7,523.7 631.4,512.8 633.4,504.4 634.5,511.9 635.6,512.8 637.3,512.8 638.5,537.1 639.8,552.3 641.2,555.6 642.9,561.5 644.0,547.2 645.4,543.5 646.6,550.6 648.2,554.8 649.6,557.3 650.8,548.9 652.1,557.3 653.3,548.9 655.0,545.5 655.8,530.4 656.5,515.3 657.3,552.3 658.7,554.8 660.3,559.0 661.3,555.6 662.5,564.0 664.2,566.6 665.9,570.8 667.6,574.1 668.4,594.3 669.2,609.4 670.4,610.3 671.4,619.5 672.6,608.6 673.8,614.5 675.5,616.1 676.8,609.4 678.2,603.5 679.3,606.1 680.2,610.3 681.5,594.3 682.7,590.1 683.9,585.0 685.2,583.4 686.6,564.0 687.7,550.6 689.4,553.1 691.1,548.9 692.4,558.2 693.6,550.6 695.3,547.2 697.0,543.9 698.7,527.1 700.1,513.6 701.4,516.1 702.6,526.2 704.3,511.1 706.0,516.1 707.3,517.8 708.5,510.3 709.7,508.2 710.5,519.5 711.5,530.4 712.7,524.5 714.4,522.0 716.1,530.4 717.2,537.1 718.2,532.9 719.4,546.4 720.3,550.6 721.4,534.6 722.8,546.4 724.5,550.6 726.1,539.7 727.8,548.1 729.5,547.2 731.2,538.0 732.9,538.8 734.0,519.5 735.4,512.8 736.7,511.9 738.7,518.7 740.4,513.6 741.8,521.2 742.9,535.5 744.1,546.4 745.5,549.7 746.8,559.0 748.3,555.6 749.7,560.7 751.3,567.4 753.0,557.3 754.2,546.4 755.5,538.8 756.7,524.5 757.6,543.9 758.4,550.6 759.1,511.9 760.6,512.8 762.3,518.7 763.9,521.2 765.3,531.3 766.5,532.1 768.2,521.2 769.3,530.4 770.3,538.0 771.8,533.8 773.2,535.5 774.5,533.8 776.1,537.1 777.4,538.0 779.1,534.6 780.8,533.8 781.6,528.7 782.8,547.2 784.1,552.3 785.5,543.0 787.1,541.3 788.3,523.7 789.2,506.4 790.3,517.8 792.2,519.5 793.4,526.2 794.5,532.1 795.9,525.4 796.9,538.0 797.9,555.6 799.2,567.4 800.6,587.6 801.8,589.2 802.9,580.0 804.3,581.7 805.3,590.1 806.5,580.8 807.6,585.9 809.0,587.6 810.2,569.1 811.3,568.2 812.7,561.5 814.0,560.7 815.2,547.2 816.6,555.6 817.7,565.7 819.1,571.6 820.6,570.8 821.9,559.8 822.8,564.0 823.9,556.5 825.3,559.0 826.5,556.5 827.5,560.7 828.3,565.7 829.2,542.2 830.3,532.4 832.0,536.3 834.0,540.5 835.4,550.6 836.7,559.8 838.2,552.6 839.6,567.4 840.8,579.2 841.6,602.7 842.6,597.6 843.8,597.6 845.0,584.2 846.3,573.3 847.5,587.6 848.8,580.8 850.2,584.2 851.3,584.2 852.7,569.1 854.4,561.5 856.1,557.3 857.6,558.2 858.9,547.2 860.3,538.8 861.4,538.0 863.1,535.5 864.8,538.8 866.1,548.9 867.3,555.6 868.5,564.0 869.5,560.7 870.3,548.1 871.5,575.8 873.2,585.9 874.4,567.4 875.7,563.2 876.9,577.5 878.2,565.7 879.6,565.7 880.8,551.4 882.1,557.3 883.3,553.1 884.6,560.7 886.3,556.5 887.5,564.0 888.8,575.0 890.0,577.5 891.7,578.3 893.0,567.4 894.5,561.5 895.4,569.1 896.4,584.2 897.6,573.3 898.9,569.1 900.4,570.8 901.4,544.7 902.6,533.8 903.8,532.4 905.1,538.8 906.8,535.5 908.5,530.4 910.2,526.2 911.5,532.1 912.5,548.9 913.5,537.1 914.5,527.9 915.5,523.4 916.9,537.1 918.2,544.7 919.4,551.4 920.6,538.8 921.9,546.4 923.3,552.3 924.5,559.0 925.6,543.9 927.3,538.0 928.7,543.0 930.3,544.7 931.9,548.1 933.6,553.1 935.3,546.4 936.1,547.2 937.3,523.4 938.3,537.1 939.5,552.3 940.7,548.1 942.0,553.9 943.4,550.6 945.4,556.5 947.1,547.2 948.4,538.8 949.4,531.3 950.4,548.1 951.8,544.7 953.4,543.0 954.6,532.1 955.5,513.6 956.6,506.9 957.5,506.4 958.5,513.6 960.2,506.4 961.8,507.7 963.5,511.1 965.2,518.7 966.4,532.1 967.2,552.3 968.1,564.0 969.2,567.4 970.6,559.8 971.9,569.1 972.4,572.4 973.6,559.8 974.8,564.0 976.0,557.3 977.3,543.9 978.7,540.2 979.8,548.9 981.2,557.3 982.7,546.4 984.4,538.8 986.1,530.4 987.4,533.8 989.1,530.4 990.4,529.6 991.6,547.2 992.4,548.1 993.8,538.8 995.5,535.5 996.6,518.7 997.5,506.1 998.3,537.1 1000.0,534.6 1001.7,527.9 1003.4,521.2 1004.5,520.3 1006.2,522.9 1008.4,529.6 1009.2,553.9 1010.9,550.6 1012.6,557.3 1013.9,561.5 1015.1,547.2 1016.3,540.5 1018.0,538.0 1019.7,532.4 1021.3,533.8 1022.7,538.8 1024.4,545.5 1026.1,546.4 1026.9,567.4 1027.4,582.5 1028.4,567.4 1029.7,563.2 1031.4,559.0 1032.8,553.9 1034.1,546.4 1035.8,545.5 1037.0,548.1 1038.3,543.5 1039.5,553.9 1041.2,557.3 1042.5,564.0 1043.7,567.4 1044.9,580.8 1045.9,591.8 1046.6,592.6 1047.6,575.8 1048.7,566.6 1049.7,567.1" fill="none" stroke="#1e90ff" stroke-width="1" shape-rendering="crispEdges"/>
<polyline points="1.5,672.6 2.5,680.1 3.5,734.2 4.5,767.5 5.5,790.1 6.5,788.9 7.5,767.7 8.5,752.2 9.5,738.6 10.5,735.9 11.5,744.4 12.5,799.3 13.5,816.1 14.5,812.1 15.5,784.7 16.5,764.0 17.5,740.8 18.5,726.2 19.5,711.0 20.5,713.8 21.5,755.3 22.5,796.5 23.5,826.3 24.5,822.2 25.5,779.9 26.5,740.9 27.5,700.2 28.5,666.9 29.5,667.8 30.5,684.9 31.5,700.9 32.5,715.8 33.5,730.1 34.5,734.7 35.5,729.7 36.5,686.1 37.5,660.2 38.5,661.9 39.5,686.6 40.5,714.2 41.5,747.5 42.5,779.5 43.5,804.8 44.5,826.3 45.5,822.8 46.5,782.9 47.5,742.6 48.5,705.1 49.5,679.4 50.5,680.9 51.5,697.6 52.5,714.4 53.5,732.0 54.5,746.0 55.5,740.0 56.5,680.5 57.5,684.1 58.5,717.4 59.5,742.7 60.5,764.8 61.5,776.6 62.5,771.7 63.5,732.5 64.5,734.4 65.5,749.4 66.5,743.0 67.5,695.7 68.5,678.2 69.5,686.9 70.5,747.9 71.5,785.6 72.5,784.8 73.5,772.5 74.5,757.5 75.5,742.3 76.5,723.8 77.5,710.2 78.5,700.8 79.5,698.6 80.5,709.3 81.5,785.6 82.5,781.1 83.5,739.5 84.5,708.3 85.5,710.3 86.5,731.7 87.5,753.3 88.5,773.0 89.5,795.5 90.5,809.3 91.5,807.2 92.5,773.8 93.5,743.6 94.5,715.1 95.5,699.7 96.5,702.2 97.5,718.7 98.5,730.7 99.5,746.7 100.5,760.1 101.5,774.1 102.5,788.4 103.5,798.0 104.5,797.3 105.5,778.1 106.5,754.5 107.5,730.6 108.5,713.3 109.5,715.2 110.5,737.6 111.5,758.9 112.5,781.8 113.5,798.1 114.5,805.9 115.5,807.5 116.5,822.1 117.5,826.3 118.5,825.0 119.5,817.3 120.5,809.6 121.5,805.9 122.5,805.9 123.5,791.7 124.5,708.8 125.5,672.6 126.5,672.9 127.5,675.9 128.5,673.9 129.5,674.9 130.5,674.1 131.5,670.7 132.5,673.7 133.5,670.3 134.5,675.0 135.5,709.2 136.5,731.9 137.5,744.9 138.5,743.5 139.5,725.1 140.5,709.7 141.5,699.1 142.5,683.1 143.5,675.6 144.5,670.3 145.5,677.3 146.5,729.7 147.5,754.5 148.5,760.7 149.5,755.6 150.5,717.8 151.5,717.1 152.5,709.4 153.5,703.4 154.5,690.7 155.5,686.0 156.5,679.5 157.5,676.0 158.5,684.8 159.5,747.2 160.5,783.3 161.5,783.0 162.5,773.9 163.5,762.0 164.5,750.6 165.5,750.9 166.5,762.7 167.5,773.8 168.5,781.5 169.5,792.1 170.5,800.3 171.5,795.3 172.5,736.3 173.5,693.7 174.5,670.3 175.5,674.0 176.5,705.8 177.5,737.8 178.5,765.2 179.5,791.1 180.5,809.3 181.5,806.9 182.5,769.3 183.5,730.4 184.5,698.9 185.5,669.9 186.5,671.0 187.5,676.7 188.5,685.0 189.5,697.3 190.5,703.2 191.5,710.1 192.5,712.1 193.5,710.3 194.5,695.3 195.5,688.4 196.5,693.5 197.5,747.6 198.5,782.5 199.5,808.2 200.5,804.9 201.5,771.4 202.5,743.8 203.5,717.0 204.5,688.7 205.5,670.2 206.5,664.7 207.5,668.1 208.5,693.3 209.5,704.2 210.5,702.3 211.5,683.9 212.5,685.6 213.5,721.3 214.5,760.2 215.5,790.1 216.5,785.3 217.5,744.9 218.5,713.3 219.5,715.4 220.5,747.1 221.5,776.8 222.5,795.8 223.5,793.3 224.5,766.5 225.5,741.3 226.5,719.6 227.5,700.8 228.5,701.2 229.5,708.8 230.5,706.0 231.5,689.7 232.5,681.6 233.5,687.1 234.5,739.0 235.5,771.7 236.5,801.2 237.5,815.0 238.5,806.8 239.5,739.7 240.5,700.2 241.5,666.3 242.5,671.5 243.5,731.3 244.5,781.7 245.5,807.1 246.5,804.7 247.5,787.9 248.5,770.3 249.5,757.4 250.5,749.5 251.5,740.4 252.5,742.7 253.5,746.8 254.5,716.3 255.5,692.1 256.5,675.3 257.5,676.5 258.5,696.8 259.5,709.0 260.5,727.7 261.5,735.9 262.5,737.6 263.5,758.4 264.5,773.8 265.5,788.7 266.5,792.4 267.5,787.9 268.5,754.8 269.5,729.7 270.5,700.5 271.5,678.6 272.5,660.2 273.5,659.9 274.5,656.9 275.5,658.6 276.5,659.4 277.5,666.2 278.5,668.1 279.5,669.8 280.5,687.6 281.5,702.5 282.5,719.8 283.5,729.1 284.5,727.6 285.5,713.1 286.5,705.4 287.5,711.7 288.5,754.2 289.5,774.3 290.5,773.3 291.5,756.2 292.5,743.7 293.5,725.2 294.5,715.2 295.5,711.0 296.5,713.9 297.5,740.8 298.5,758.6 299.5,778.3 300.5,795.8 301.5,809.7 302.5,813.8 303.5,807.7 304.5,754.4 305.5,719.1 306.5,688.4 307.5,688.1 308.5,684.8 309.5,677.5 310.5,672.2 311.5,667.7 312.5,660.8 313.5,661.3 314.5,662.9 315.5,678.2 316.5,676.8 317.5,667.8 318.5,662.3 319.5,659.5 320.5,666.0 321.5,720.4 322.5,752.7 323.5,779.9 324.5,777.3 325.5,757.4 326.5,739.3 327.5,743.9 328.5,775.4 329.5,764.4 330.5,705.4 331.5,710.1 332.5,741.4 333.5,756.2 334.5,752.2 335.5,727.4 336.5,712.1 337.5,712.7 338.5,727.6 339.5,738.6 340.5,751.3 341.5,759.8 342.5,764.1 343.5,761.5 344.5,741.4 345.5,723.8 346.5,713.4 347.5,705.4 348.5,714.0 349.5,772.5 350.5,801.4 351.5,795.6 352.5,744.8 353.5,707.1 354.5,677.4 355.5,658.6 356.5,663.4 357.5,707.1 358.5,739.8 359.5,774.9 360.5,802.4 361.5,808.2 362.5,806.2 363.5,789.0 364.5,781.6 365.5,768.3 366.5,760.0 367.5,751.7 368.5,755.6 369.5,765.6 370.5,736.1 371.5,702.9 372.5,677.4 373.5,659.5 374.5,662.4 375.5,689.5 376.5,710.1 377.5,723.5 378.5,729.1 379.5,725.1 380.5,714.9 381.5,731.7 382.5,751.9 383.5,764.0 384.5,781.8 385.5,787.9 386.5,783.5 387.5,746.1 388.5,712.1 389.5,686.6 390.5,670.3 391.5,677.3 392.5,738.1 393.5,781.0 394.5,822.9 395.5,821.0 396.5,793.9 397.5,762.5 398.5,730.2 399.5,697.9 400.5,677.0 401.5,669.2 402.5,674.7 403.5,713.7 404.5,732.5 405.5,738.1 406.5,728.8 407.5,664.0 408.5,666.4 409.5,702.7 410.5,738.6 411.5,770.0 412.5,789.0 413.5,787.5 414.5,774.9 415.5,764.3 416.5,754.9 417.5,751.7 418.5,755.2 419.5,780.5 420.5,798.7 421.5,811.0 422.5,817.2 423.5,809.2 424.5,742.3 425.5,700.7 426.5,671.4 427.5,655.0 428.5,664.4 429.5,740.9 430.5,792.8 431.5,836.4 432.5,834.9 433.5,816.7 434.5,797.2 435.5,770.9 436.5,748.2 437.5,725.3 438.5,707.8 439.5,694.1 440.5,696.8 441.5,722.0 442.5,743.1 443.5,769.1 444.5,788.0 445.5,792.4 446.5,783.5 447.5,727.8 448.5,703.1 449.5,706.8 450.5,738.5 451.5,763.5 452.5,789.6 453.5,812.6 454.5,822.9 455.5,819.7 456.5,787.7 457.5,763.2 458.5,744.9 459.5,748.8 460.5,786.9 461.5,820.6 462.5,817.3 463.5,774.6 464.5,741.9 465.5,708.5 466.5,679.4 467.5,681.3 468.5,708.6 469.5,733.3 470.5,762.2 471.5,781.8 472.5,794.6 473.5,790.5 474.5,758.0 475.5,731.1 476.5,706.0 477.5,689.5 478.5,693.4 479.5,737.4 480.5,769.8 481.5,803.7 482.5,801.0 483.5,777.0 484.5,763.0 485.5,768.6 486.5,805.9 487.5,798.0 488.5,737.0 489.5,706.5 490.5,713.2 491.5,759.8 492.5,789.0 493.5,786.3 494.5,763.3 495.5,746.0 496.5,747.0 497.5,757.6 498.5,767.9 499.5,775.0 500.5,786.6 501.5,789.0 502.5,787.2 503.5,777.5 504.5,767.5 505.5,768.7 506.5,778.8 507.5,775.9 508.5,746.3 509.5,720.6 510.5,702.4 511.5,680.2 512.5,672.6 513.5,676.3 514.5,703.3 515.5,724.5 516.5,735.9 517.5,730.8 518.5,702.0 519.5,702.3 520.5,706.5 521.5,711.0 522.5,709.8 523.5,702.6 524.5,694.8 525.5,686.8 526.5,678.1 527.5,671.5 528.5,662.7 529.5,661.3 530.5,666.3 531.5,716.2 532.5,752.3 533.5,781.1 534.5,778.9 535.5,748.8 536.5,723.3 537.5,707.6 538.5,714.6 539.5,759.9 540.5,789.0 541.5,783.8 542.5,734.7 543.5,737.3 544.5,760.1 545.5,777.7 546.5,776.0 547.5,749.0 548.5,720.0 549.5,697.9 550.5,673.7 551.5,681.1 552.5,740.0 553.5,785.6 554.5,780.7 555.5,734.1 556.5,694.7 557.5,672.6 558.5,674.0 559.5,693.4 560.5,709.6 561.5,725.2 562.5,740.0 563.5,747.2 564.5,745.0 565.5,730.5 566.5,717.7 567.5,703.0 568.5,687.3 569.5,679.1 570.5,668.5 571.5,670.2 572.5,682.3 573.5,692.4 574.5,710.0 575.5,722.2 576.5,742.8 577.5,759.2 578.5,777.5 579.5,792.9 580.5,804.8 581.5,815.0 582.5,824.4 583.5,829.7 584.5,823.0 585.5,766.7 586.5,729.9 587.5,697.0 588.5,671.5 589.5,674.0 590.5,701.9 591.5,731.1 592.5,760.4 593.5,790.3 594.5,810.9 595.5,820.6 596.5,814.8 597.5,777.1 598.5,752.8 599.5,753.9 600.5,763.4 601.5,777.7 602.5,773.2 603.5,731.3 604.5,702.6 605.5,680.5 606.5,686.4 607.5,723.3 608.5,743.8 609.5,742.2 610.5,728.3 611.5,711.4 612.5,696.4 613.5,688.4 614.5,693.8 615.5,759.2 616.5,807.6 617.5,836.4 618.5,833.7 619.5,809.2 620.5,786.7 621.5,762.0 622.5,738.1 623.5,720.9 624.5,710.6 625.5,717.2 626.5,765.7 627.5,796.9 628.5,793.6 629.5,757.3 630.5,728.2 631.5,694.6 632.5,670.2 633.5,657.2 634.5,659.9 635.5,685.5 636.5,707.4 637.5,728.0 638.5,755.5 639.5,779.1 640.5,798.6 641.5,815.0 642.5,825.1 643.5,820.0 644.5,770.7 645.5,732.6 646.5,707.6 647.5,712.3 648.5,744.5 649.5,773.2 650.5,771.6 651.5,751.3 652.5,734.5 653.5,712.6 654.5,692.9 655.5,679.5 656.5,673.7 657.5,681.6 658.5,738.9 659.5,779.7 660.5,805.0 661.5,817.2 662.5,812.5 663.5,788.1 664.5,772.0 665.5,774.1 666.5,792.6 667.5,806.1 668.5,822.4 669.5,831.9 670.5,829.9 671.5,800.0 672.5,777.8 673.5,750.3 674.5,733.6 675.5,724.6 676.5,727.1 677.5,752.5 678.5,767.1 679.5,779.1 680.5,785.6 681.5,783.4 682.5,763.2 683.5,753.0 684.5,733.5 685.5,716.6 686.5,699.5 687.5,689.1 688.5,679.5 689.5,671.5 690.5,674.6 691.5,697.9 692.5,716.2 693.5,730.7 694.5,739.3 695.5,736.0 696.5,705.8 697.5,683.9 698.5,671.1 699.5,664.7 700.5,666.9 701.5,683.4 702.5,693.7 703.5,704.9 704.5,706.5 705.5,700.9 706.5,665.8 707.5,667.1 708.5,670.1 709.5,674.9 710.5,684.0 711.5,744.4 712.5,777.7 713.5,773.0 714.5,742.8 715.5,724.6 716.5,731.7 717.5,774.3 718.5,772.9 719.5,761.8 720.5,749.0 721.5,739.7 722.5,733.4 723.5,729.1 724.5,734.8 725.5,773.2 726.5,770.4 727.5,742.7 728.5,744.0 729.5,754.3 730.5,761.9 731.5,758.3 732.5,726.5 733.5,704.7 734.5,686.0 735.5,671.4 736.5,660.8 737.5,663.6 738.5,690.3 739.5,708.1 740.5,733.2 741.5,755.7 742.5,776.1 743.5,797.8 744.5,812.4 745.5,820.6 746.5,818.1 747.5,792.0 748.5,776.5 749.5,760.7 750.5,762.4 751.5,776.6 752.5,782.2 753.5,774.8 754.5,723.8 755.5,695.4 756.5,683.9 757.5,687.7 758.5,721.2 759.5,718.8 760.5,689.2 761.5,665.4 762.5,670.1 763.5,715.8 764.5,755.0 765.5,794.5 766.5,825.1 767.5,817.9 768.5,757.5 769.5,714.4 770.5,714.7 771.5,709.2 772.5,709.3 773.5,708.2 774.5,706.0 775.5,704.2 776.5,709.7 777.5,745.7 778.5,766.4 779.5,763.0 780.5,743.3 781.5,722.3 782.5,724.2 783.5,753.0 784.5,769.8 785.5,767.1 786.5,737.2 787.5,718.4 788.5,696.1 789.5,679.4 790.5,680.8 791.5,705.5 792.5,730.8 793.5,758.7 794.5,784.9 795.5,804.8 796.5,805.5 797.5,815.1 798.5,827.0 799.5,830.8 800.5,830.4 801.5,818.8 802.5,809.1 803.5,802.7 804.5,787.9 805.5,782.1 806.5,775.6 807.5,768.6 808.5,770.7 809.5,783.3 810.5,780.7 811.5,758.7 812.5,744.4 813.5,728.7 814.5,713.0 815.5,706.0 816.5,699.7 817.5,707.8 818.5,770.8 819.5,805.9 820.5,821.8 821.5,816.7 822.5,774.6 823.5,741.1 824.5,716.4 825.5,706.5 826.5,712.8 827.5,753.0 828.5,772.0 829.5,767.8 830.5,722.4 831.5,695.1 832.5,678.2 833.5,681.7 834.5,703.9 835.5,726.5 836.5,749.6 837.5,772.5 838.5,791.7 839.5,809.3 840.5,825.1 841.5,824.8 842.5,813.4 843.5,798.6 844.5,783.2 845.5,770.6 846.5,757.1 847.5,749.4 848.5,755.2 849.5,801.3 850.5,812.7 851.5,804.3 852.5,742.9 853.5,705.4 854.5,674.9 855.5,674.8 856.5,676.2 857.5,677.1 858.5,678.2 859.5,681.1 860.5,701.7 861.5,712.2 862.5,730.0 863.5,750.4 864.5,772.1 865.5,787.0 866.5,804.2 867.5,813.0 868.5,821.8 869.5,819.9 870.5,800.3 871.5,801.4 872.5,812.9 873.5,820.6 874.5,818.2 875.5,794.4 876.5,775.7 877.5,759.7 878.5,742.2 879.5,735.9 880.5,729.7 881.5,688.4 882.5,693.3 883.5,724.9 884.5,750.6 885.5,751.6 886.5,767.4 887.5,779.5 888.5,794.3 889.5,803.9 890.5,804.8 891.5,799.7 892.5,758.8 893.5,732.7 894.5,716.8 895.5,707.6 896.5,720.3 897.5,811.6 898.5,810.2 899.5,784.5 900.5,755.5 901.5,723.5 902.5,699.2 903.5,680.5 904.5,681.7 905.5,695.4 906.5,704.9 907.5,712.6 908.5,717.8 909.5,716.9 910.5,707.1 911.5,702.0 912.5,710.9 913.5,775.4 914.5,769.5 915.5,722.1 916.5,688.4 917.5,693.9 918.5,741.2 919.5,767.6 920.5,784.5 921.5,776.5 922.5,721.2 923.5,727.0 924.5,770.1 925.5,785.6 926.5,774.8 927.5,711.5 928.5,682.8 929.5,685.8 930.5,711.4 931.5,731.8 932.5,753.3 933.5,770.2 934.5,777.7 935.5,772.5 936.5,738.2 937.5,725.7 938.5,730.7 939.5,772.9 940.5,792.1 941.5,805.9 942.5,802.9 943.5,777.2 944.5,753.2 945.5,729.0 946.5,705.7 947.5,688.0 948.5,672.8 949.5,663.6 950.5,671.5 951.5,722.5 952.5,754.0 953.5,751.4 954.5,719.5 955.5,696.4 956.5,675.8 957.5,666.3 958.5,666.8 959.5,673.5 960.5,678.7 961.5,679.4 962.5,682.7 963.5,710.5 964.5,730.6 965.5,750.4 966.5,771.9 967.5,791.3 968.5,803.7 969.5,814.9 970.5,820.6 971.5,816.2 972.5,782.9 973.5,762.9 974.5,737.8 975.5,712.7 976.5,695.5 977.5,677.4 978.5,668.1 979.5,674.2 980.5,730.6 981.5,773.0 982.5,793.5 983.5,789.9 984.5,749.5 985.5,720.8 986.5,695.2 987.5,690.7 988.5,689.9 989.5,686.3 990.5,681.6 991.5,691.8 992.5,756.7 993.5,784.5 994.5,777.3 995.5,717.8 996.5,682.9 997.5,665.4 998.5,675.3 999.5,739.8 1000.5,781.1 1001.5,777.6 1002.5,743.9 1003.5,716.4 1004.5,693.5 1005.5,678.2 1006.5,682.9 1007.5,724.2 1008.5,760.7 1009.5,785.8 1010.5,799.2 1011.5,795.8 1012.5,777.7 1013.5,780.8 1014.5,794.6 1015.5,786.5 1016.5,724.3 1017.5,690.1 1018.5,666.9 1019.5,668.5 1020.5,684.9 1021.5,703.6 1022.5,723.1 1023.5,742.1 1024.5,761.7 1025.5,778.4 1026.5,795.4 1027.5,803.7 1028.5,801.7 1029.5,779.5 1030.5,754.7 1031.5,730.7 1032.5,705.1 1033.5,687.4 1034.5,666.9 1035.5,669.0 1036.5,691.0 1037.5,711.9 1038.5,740.5 1039.5,769.8 1040.5,796.4 1041.5,814.3 1042.5,824.0 1043.5,822.0 1044.5,803.6 1045.5,789.8 1046.5,770.7 1047.5,750.3 1048.5,739.5 1049.5,722.6 1050.5,714.4" fill="none" stroke="#20b2aa" stroke-width="1" shape-rendering="crispEdges"/>
<polyline points="1.5,672.6 2.5,676.4 3.5,695.6 4.5,727.3 5.5,763.9 6.5,782.2 7.5,782.2 8.5,769.6 9.5,752.8 10.5,742.2 11.5,739.6 12.5,759.8 13.5,786.6 14.5,809.2 15.5,804.3 16.5,786.9 17.5,763.2 18.5,743.7 19.5,726.0 20.5,717.0 21.5,726.7 22.5,755.2 23.5,792.7 24.5,815.0 25.5,809.5 26.5,781.0 27.5,740.3 28.5,702.7 29.5,678.3 30.5,673.2 31.5,684.5 32.5,700.5 33.5,715.6 34.5,726.9 35.5,731.5 36.5,716.8 37.5,692.0 38.5,669.4 39.5,669.6 40.5,687.6 41.5,716.1 42.5,747.1 43.5,777.3 44.5,803.5 45.5,818.0 46.5,810.7 47.5,782.8 48.5,743.6 49.5,709.0 50.5,688.4 51.5,685.9 52.5,697.6 53.5,714.6 54.5,730.8 55.5,739.3 56.5,722.2 57.5,701.5 58.5,694.0 59.5,714.7 60.5,741.6 61.5,761.4 62.5,771.0 63.5,760.3 64.5,746.2 65.5,738.8 66.5,742.3 67.5,729.4 68.5,705.7 69.5,686.9 70.5,704.4 71.5,740.1 72.5,772.8 73.5,781.0 74.5,771.6 75.5,757.4 76.5,741.2 77.5,725.4 78.5,711.6 79.5,703.2 80.5,702.9 81.5,731.2 82.5,758.7 83.5,768.7 84.5,743.0 85.5,719.4 86.5,716.8 87.5,731.8 88.5,752.7 89.5,773.9 90.5,792.6 91.5,804.0 92.5,796.8 93.5,774.8 94.5,744.2 95.5,719.5 96.5,705.7 97.5,706.9 98.5,717.2 99.5,732.0 100.5,745.8 101.5,760.3 102.5,774.2 103.5,786.9 104.5,794.6 105.5,791.1 106.5,776.6 107.5,754.4 108.5,732.8 109.5,719.7 110.5,722.0 111.5,737.3 112.5,759.4 113.5,779.6 114.5,795.3 115.5,803.8 116.5,811.8 117.5,818.6 118.5,824.5 119.5,822.9 120.5,817.3 121.5,810.9 122.5,807.1 123.5,801.2 124.5,768.8 125.5,724.4 126.5,684.8 127.5,673.8 128.5,674.2 129.5,674.9 130.5,674.3 131.5,673.2 132.5,672.9 133.5,671.6 134.5,673.0 135.5,684.9 136.5,705.4 137.5,728.7 138.5,740.1 139.5,737.8 140.5,726.1 141.5,711.3 142.5,697.3 143.5,686.0 144.5,676.4 145.5,674.4 146.5,692.4 147.5,720.5 148.5,748.3 149.5,757.0 150.5,744.7 151.5,730.2 152.5,714.8 153.5,710.0 154.5,701.2 155.5,693.4 156.5,685.4 157.5,680.5 158.5,680.1 159.5,702.7 160.5,738.4 161.5,771.2 162.5,780.1 163.5,773.0 164.5,762.2 165.5,754.5 166.5,754.7 167.5,762.5 168.5,772.7 169.5,782.5 170.5,791.3 171.5,795.9 172.5,777.3 173.5,741.8 174.5,700.1 175.5,679.4 176.5,683.4 177.5,705.9 178.5,736.2 179.5,764.7 180.5,788.5 181.5,802.4 182.5,795.2 183.5,768.9 184.5,732.9 185.5,699.7 186.5,679.9 187.5,672.5 188.5,677.6 189.5,686.3 190.5,695.2 191.5,703.5 192.5,708.5 193.5,710.8 194.5,705.9 195.5,698.0 196.5,692.4 197.5,709.9 198.5,741.2 199.5,779.5 200.5,798.5 201.5,794.9 202.5,773.4 203.5,744.1 204.5,716.5 205.5,692.0 206.5,674.5 207.5,667.7 208.5,675.4 209.5,688.6 210.5,699.9 211.5,696.8 212.5,690.6 213.5,696.9 214.5,722.4 215.5,757.2 216.5,778.5 217.5,773.4 218.5,747.8 219.5,724.5 220.5,725.2 221.5,746.4 222.5,773.2 223.5,788.6 224.5,785.2 225.5,767.1 226.5,742.5 227.5,720.6 228.5,707.2 229.5,703.6 230.5,705.3 231.5,701.5 232.5,692.4 233.5,686.1 234.5,702.6 235.5,732.6 236.5,770.6 237.5,796.0 238.5,807.7 239.5,787.2 240.5,748.9 241.5,702.1 242.5,679.3 243.5,689.7 244.5,728.2 245.5,773.3 246.5,797.8 247.5,799.9 248.5,787.6 249.5,771.9 250.5,759.1 251.5,749.1 252.5,744.2 253.5,743.3 254.5,735.2 255.5,718.4 256.5,694.6 257.5,681.3 258.5,682.9 259.5,694.1 260.5,711.1 261.5,724.2 262.5,733.7 263.5,744.0 264.5,756.6 265.5,773.6 266.5,785.0 267.5,789.7 268.5,778.4 269.5,757.5 270.5,728.3 271.5,702.9 272.5,679.8 273.5,666.2 274.5,659.0 275.5,658.4 276.5,658.3 277.5,661.4 278.5,664.6 279.5,668.0 280.5,675.2 281.5,686.6 282.5,703.3 283.5,717.1 284.5,725.5 285.5,723.2 286.5,715.3 287.5,710.1 288.5,723.8 289.5,746.8 290.5,767.3 291.5,767.9 292.5,757.7 293.5,741.7 294.5,728.0 295.5,717.1 296.5,713.4 297.5,721.9 298.5,737.7 299.5,759.2 300.5,777.6 301.5,794.6 302.5,806.5 303.5,810.4 304.5,792.0 305.5,760.4 306.5,720.6 307.5,698.5 308.5,687.1 309.5,683.5 310.5,678.1 311.5,672.5 312.5,666.9 313.5,663.3 314.5,661.7 315.5,667.5 316.5,672.6 317.5,674.3 318.5,669.0 319.5,663.2 320.5,662.6 321.5,682.0 322.5,713.0 323.5,751.0 324.5,770.0 325.5,771.6 326.5,758.0 327.5,746.8 328.5,752.8 329.5,761.2 330.5,748.4 331.5,726.6 332.5,719.0 333.5,735.9 334.5,749.9 335.5,745.3 336.5,730.6 337.5,717.4 338.5,717.5 339.5,726.3 340.5,739.2 341.5,749.9 342.5,758.4 343.5,761.8 344.5,755.7 345.5,742.2 346.5,726.2 347.5,714.2 348.5,710.9 349.5,730.6 350.5,762.7 351.5,789.8 352.5,780.6 353.5,749.2 354.5,709.8 355.5,681.0 356.5,666.5 357.5,676.4 358.5,703.5 359.5,740.6 360.5,772.4 361.5,795.1 362.5,805.6 363.5,801.1 364.5,792.3 365.5,779.6 366.5,770.0 367.5,760.0 368.5,755.8 369.5,757.6 370.5,752.4 371.5,734.8 372.5,705.5 373.5,679.9 374.5,666.4 375.5,670.4 376.5,687.3 377.5,707.7 378.5,720.9 379.5,725.9 380.5,723.0 381.5,723.9 382.5,732.8 383.5,749.2 384.5,765.9 385.5,777.9 386.5,784.4 387.5,772.5 388.5,747.2 389.5,714.9 390.5,689.7 391.5,678.1 392.5,695.3 393.5,732.1 394.5,780.7 395.5,808.3 396.5,812.6 397.5,792.4 398.5,762.2 399.5,730.2 400.5,701.7 401.5,681.4 402.5,673.6 403.5,685.9 404.5,707.0 405.5,728.1 406.5,733.1 407.5,710.3 408.5,686.4 409.5,677.7 410.5,702.6 411.5,737.1 412.5,765.9 413.5,782.2 414.5,783.8 415.5,775.6 416.5,764.7 417.5,757.0 418.5,753.9 419.5,762.5 420.5,778.1 421.5,796.7 422.5,809.0 423.5,812.5 424.5,789.6 425.5,750.8 426.5,704.8 427.5,675.7 428.5,663.6 429.5,686.8 430.5,732.7 431.5,790.1 432.5,821.4 433.5,829.4 434.5,816.3 435.5,794.9 436.5,772.1 437.5,748.1 438.5,727.1 439.5,709.0 440.5,699.6 441.5,704.3 442.5,720.7 443.5,744.7 444.5,766.8 445.5,783.2 446.5,788.0 447.5,767.9 448.5,738.1 449.5,712.6 450.5,716.1 451.5,736.3 452.5,763.9 453.5,788.6 454.5,808.4 455.5,818.4 456.5,810.1 457.5,790.2 458.5,765.3 459.5,752.3 460.5,760.2 461.5,785.4 462.5,808.3 463.5,804.2 464.5,777.9 465.5,741.7 466.5,709.9 467.5,689.7 468.5,689.7 469.5,707.7 470.5,734.7 471.5,759.1 472.5,779.5 473.5,789.0 474.5,781.0 475.5,759.9 476.5,731.7 477.5,708.9 478.5,696.3 479.5,706.8 480.5,733.5 481.5,770.3 482.5,791.5 483.5,793.9 484.5,780.4 485.5,769.5 486.5,779.2 487.5,790.8 488.5,780.3 489.5,747.2 490.5,718.9 491.5,726.5 492.5,754.0 493.5,778.4 494.5,779.5 495.5,765.2 496.5,752.1 497.5,750.2 498.5,757.5 499.5,766.8 500.5,776.5 501.5,783.5 502.5,787.6 503.5,784.6 504.5,777.4 505.5,771.2 506.5,771.7 507.5,774.4 508.5,767.0 509.5,747.6 510.5,723.1 511.5,701.1 512.5,685.1 513.5,676.4 514.5,684.1 515.5,701.3 516.5,721.2 517.5,730.4 518.5,722.9 519.5,711.7 520.5,703.6 521.5,706.6 522.5,709.1 523.5,707.8 524.5,702.4 525.5,694.7 526.5,686.6 527.5,678.8 528.5,670.7 529.5,665.1 530.5,663.4 531.5,681.3 532.5,711.6 533.5,749.9 534.5,770.7 535.5,769.6 536.5,750.3 537.5,726.6 538.5,715.2 539.5,727.4 540.5,754.5 541.5,777.6 542.5,769.2 543.5,752.0 544.5,744.1 545.5,758.4 546.5,771.3 547.5,767.6 548.5,748.3 549.5,722.3 550.5,697.2 551.5,684.2 552.5,698.3 553.5,735.6 554.5,768.8 555.5,766.8 556.5,736.5 557.5,700.5 558.5,680.4 559.5,680.0 560.5,692.3 561.5,709.4 562.5,724.9 563.5,737.4 564.5,744.1 565.5,740.9 566.5,731.1 567.5,717.0 568.5,702.7 569.5,689.8 570.5,678.3 571.5,672.6 572.5,673.7 573.5,681.6 574.5,694.9 575.5,708.2 576.5,725.0 577.5,741.4 578.5,759.8 579.5,776.5 580.5,791.7 581.5,804.2 582.5,814.7 583.5,823.0 584.5,825.7 585.5,806.5 586.5,773.2 587.5,731.2 588.5,699.5 589.5,680.8 590.5,682.4 591.5,702.3 592.5,731.1 593.5,760.6 594.5,787.2 595.5,807.3 596.5,815.4 597.5,804.2 598.5,781.6 599.5,761.3 600.5,756.7 601.5,765.0 602.5,771.4 603.5,760.7 604.5,735.7 605.5,704.8 606.5,689.8 607.5,696.8 608.5,717.8 609.5,736.4 610.5,738.1 611.5,727.3 612.5,712.0 613.5,698.7 614.5,692.9 615.5,713.8 616.5,753.5 617.5,801.1 618.5,825.9 619.5,826.5 620.5,809.9 621.5,786.0 622.5,762.3 623.5,740.4 624.5,723.2 625.5,716.2 626.5,731.1 627.5,759.9 628.5,785.4 629.5,782.6 630.5,759.7 631.5,726.7 632.5,697.7 633.5,674.0 634.5,662.4 635.5,667.6 636.5,684.3 637.5,707.0 638.5,730.3 639.5,754.2 640.5,777.7 641.5,797.5 642.5,812.9 643.5,820.0 644.5,805.3 645.5,774.4 646.5,737.0 647.5,717.5 648.5,721.5 649.5,743.3 650.5,763.1 651.5,765.4 652.5,752.5 653.5,732.8 654.5,713.3 655.5,695.0 656.5,682.0 657.5,678.3 658.5,698.1 659.5,733.4 660.5,774.5 661.5,800.6 662.5,811.6 663.5,805.9 664.5,790.9 665.5,778.1 666.5,779.6 667.5,790.9 668.5,807.0 669.5,820.1 670.5,828.1 671.5,820.6 672.5,802.6 673.5,776.0 674.5,753.9 675.5,736.2 676.5,728.4 677.5,734.7 678.5,748.9 679.5,766.2 680.5,777.3 681.5,782.7 682.5,777.4 683.5,766.5 684.5,749.9 685.5,734.4 686.5,716.6 687.5,701.7 688.5,689.4 689.5,680.0 690.5,675.2 691.5,681.3 692.5,696.2 693.5,714.9 694.5,728.7 695.5,735.3 696.5,727.0 697.5,708.6 698.5,686.9 699.5,673.2 700.5,667.6 701.5,671.7 702.5,681.3 703.5,694.0 704.5,701.7 705.5,704.1 706.5,691.1 707.5,677.9 708.5,667.7 709.5,670.7 710.5,676.3 711.5,701.1 712.5,735.4 713.5,765.0 714.5,764.5 715.5,746.8 716.5,733.0 717.5,743.5 718.5,759.6 719.5,769.7 720.5,761.3 721.5,750.2 722.5,740.7 723.5,734.1 724.5,732.4 725.5,745.7 726.5,759.5 727.5,762.1 728.5,752.3 729.5,747.0 730.5,753.4 731.5,758.1 732.5,748.9 733.5,729.9 734.5,705.8 735.5,687.4 736.5,672.8 737.5,665.3 738.5,671.6 739.5,687.3 740.5,710.5 741.5,732.3 742.5,755.0 743.5,776.5 744.5,795.4 745.5,810.2 746.5,817.0 747.5,810.2 748.5,795.5 749.5,776.4 750.5,766.6 751.5,766.6 752.5,773.7 753.5,777.9 754.5,760.3 755.5,731.3 756.5,701.0 757.5,689.0 758.5,697.6 759.5,709.2 760.5,709.7 761.5,691.1 762.5,674.9 763.5,683.8 764.5,713.6 765.5,755.1 766.5,791.5 767.5,812.5 768.5,800.2 769.5,763.3 770.5,728.9 771.5,712.8 772.5,711.1 773.5,708.9 774.5,707.9 775.5,706.2 776.5,706.7 777.5,719.9 778.5,740.6 779.5,758.4 780.5,757.6 781.5,742.9 782.5,729.9 783.5,733.2 784.5,749.0 785.5,763.3 786.5,758.0 787.5,740.9 788.5,717.2 789.5,697.9 790.5,685.4 791.5,688.5 792.5,705.7 793.5,731.7 794.5,758.1 795.5,782.8 796.5,798.4 797.5,808.5 798.5,815.9 799.5,824.3 800.5,829.4 801.5,826.7 802.5,819.4 803.5,810.2 804.5,799.9 805.5,790.9 806.5,781.8 807.5,775.4 808.5,771.6 809.5,774.2 810.5,778.3 811.5,774.2 812.5,761.3 813.5,743.9 814.5,728.7 815.5,715.9 816.5,706.2 817.5,704.5 818.5,726.1 819.5,761.5 820.5,799.5 821.5,814.8 822.5,804.3 823.5,777.4 824.5,744.0 825.5,721.3 826.5,711.9 827.5,724.1 828.5,746.0 829.5,764.3 830.5,754.0 831.5,728.4 832.5,698.6 833.5,685.0 834.5,687.9 835.5,704.0 836.5,726.7 837.5,749.6 838.5,771.3 839.5,791.2 840.5,808.7 841.5,819.7 842.5,821.1 843.5,812.3 844.5,798.4 845.5,784.2 846.5,770.3 847.5,759.0 848.5,753.9 849.5,768.7 850.5,789.7 851.5,806.1 852.5,786.7 853.5,750.9 854.5,707.7 855.5,685.0 856.5,675.3 857.5,676.0 858.5,677.2 859.5,678.8 860.5,687.0 861.5,698.3 862.5,714.6 863.5,730.9 864.5,750.9 865.5,769.9 866.5,787.8 867.5,801.4 868.5,813.0 869.5,818.2 870.5,814.0 871.5,807.2 872.5,804.8 873.5,811.6 874.5,817.2 875.5,811.1 876.5,796.1 877.5,776.6 878.5,759.2 879.5,745.9 880.5,735.9 881.5,718.0 882.5,703.8 883.5,702.2 884.5,722.9 885.5,742.3 886.5,756.5 887.5,766.2 888.5,780.4 889.5,792.5 890.5,801.0 891.5,802.8 892.5,787.7 893.5,763.7 894.5,736.1 895.5,719.0 896.5,714.9 897.5,746.5 898.5,780.7 899.5,802.1 900.5,783.4 901.5,754.5 902.5,726.0 903.5,701.1 904.5,687.1 905.5,685.9 906.5,694.0 907.5,704.3 908.5,711.8 909.5,715.8 910.5,713.9 911.5,708.6 912.5,706.6 913.5,729.4 914.5,751.9 915.5,755.7 916.5,726.7 917.5,701.5 918.5,707.8 919.5,734.3 920.5,764.4 921.5,776.2 922.5,760.7 923.5,741.5 924.5,739.4 925.5,760.9 926.5,776.8 927.5,757.3 928.5,723.0 929.5,693.4 930.5,693.3 931.5,709.7 932.5,732.2 933.5,751.8 934.5,767.1 935.5,773.5 936.5,762.8 937.5,745.5 938.5,731.5 939.5,743.1 940.5,765.2 941.5,790.3 942.5,800.3 943.5,795.3 944.5,777.8 945.5,753.1 946.5,729.3 947.5,707.6 948.5,688.8 949.5,674.8 950.5,669.3 951.5,685.9 952.5,716.0 953.5,742.6 954.5,741.6 955.5,722.4 956.5,697.2 957.5,679.5 958.5,669.6 959.5,668.9 960.5,673.0 961.5,677.2 962.5,680.2 963.5,690.8 964.5,707.9 965.5,730.5 966.5,751.0 967.5,771.2 968.5,789.0 969.5,803.3 970.5,813.1 971.5,817.2 972.5,806.6 973.5,787.3 974.5,761.2 975.5,737.8 976.5,715.3 977.5,695.2 978.5,680.3 979.5,673.2 980.5,691.0 981.5,725.9 982.5,765.7 983.5,785.5 984.5,777.6 985.5,753.4 986.5,721.8 987.5,702.2 988.5,691.9 989.5,689.0 990.5,685.9 991.5,686.6 992.5,710.0 993.5,744.3 994.5,772.8 995.5,759.9 996.5,726.0 997.5,688.7 998.5,674.5 999.5,693.5 1000.5,732.0 1001.5,766.1 1002.5,767.5 1003.5,746.0 1004.5,718.0 1005.5,696.1 1006.5,684.9 1007.5,695.1 1008.5,722.6 1009.5,756.9 1010.5,781.9 1011.5,793.6 1012.5,790.9 1013.5,784.8 1014.5,784.4 1015.5,787.3 1016.5,768.5 1017.5,733.6 1018.5,693.8 1019.5,675.2 1020.5,673.4 1021.5,685.6 1022.5,703.9 1023.5,722.9 1024.5,742.3 1025.5,760.7 1026.5,778.5 1027.5,792.5 1028.5,800.2 1029.5,795.0 1030.5,778.6 1031.5,755.0 1032.5,730.2 1033.5,707.7 1034.5,686.5 1035.5,674.5 1036.5,675.7 1037.5,690.7 1038.5,714.5 1039.5,740.7 1040.5,768.9 1041.5,793.5 1042.5,811.6 1043.5,820.1 1044.5,816.5 1045.5,805.1 1046.5,788.0 1047.5,770.3 1048.5,753.5 1049.5,737.5 1050.5,725.5" fill="none" stroke="#ff0000" stroke-width="1" shape-rendering="crispEdges"/>
<rect x="1390" y="262" width="40" height="11" fill="#000"/>
<g font-family="Liberation Sans, sans-serif" font-size="10" letter-spacing="-0.55" word-spacing="1" stroke-width="0.15" text-rendering="geometricPrecision" fill="#000" stroke="#000">
<path d="M4 8H12L8 12Z" fill="#000"/>
<text x="16" y="13" xml:space="preserve" textLength="188">GOLD,H4  1774.56 1777.24 1770.78 1775.63</text>
<text x="5" y="464" textLength="67.5">RSI(14) 41.9958</text>
<text x="5" y="662" textLength="113">Sto(5,3,3) 67.4917 53.4895</text>
<text x="1394" y="21">1919.95</text>
<text x="1394" y="54">1900.70</text>
<text x="1394" y="87">1882.00</text>
<text x="1394" y="120">1862.75</text>
<text x="1394" y="153">1843.50</text>
<text x="1394" y="186">1824.80</text>
<text x="1394" y="219">1805.55</text>
<text x="1394" y="252">1786.30</text>
<text x="1394" y="285">1767.60</text>
<text x="1394" y="318">1748.35</text>
<text x="1394" y="351">1729.65</text>
<text x="1394" y="384">1710.40</text>
<text x="1394" y="417">1691.15</text>
<text x="1394" y="450">1672.45</text>
<text x="1394" y="271" fill="#fff" stroke="#fff">1775.63</text>
<text x="1392" y="462">100</text>
<text x="1392" y="515">70</text>
<text x="1392" y="592">30</text>
<text x="1392" y="644">0</text>
<text x="1392" y="660">100</text>
<text x="1392" y="693">80</text>
<text x="1392" y="809">20</text>
<text x="1392" y="841">0</text>
<text x="0" y="857">3 Mar 2021</text>
<text x="64" y="857">17 Mar 22:00</text>
<text x="128" y="857">1 Apr 14:00</text>
<text x="192" y="857">19 Apr 07:00</text>
<text x="256" y="857">3 May 23:00</text>
<text x="320" y="857">18 May 14:00</text>
<text x="384" y="857">2 Jun 10:00</text>
<text x="448" y="857">17 Jun 02:00</text>
<text x="512" y="857">1 Jul 18:00</text>
<text x="576" y="857">16 Jul 14:00</text>
<text x="640" y="857">2 Aug 07:00</text>
<text x="704" y="857">16 Aug 23:00</text>
<text x="768" y="857">31 Aug 14:00</text>
<text x="832" y="857">15 Sep 10:00</text>
<text x="896" y="857">30 Sep 02:00</text>
<text x="960" y="857">14 Oct 18:00</text>
<text x="1024" y="857">29 Oct 10:00</text>
</g>
<g font-family="Liberation Sans, sans-serif" font-size="10" letter-spacing="-0.55" word-spacing="1" stroke-width="0.15" text-rendering="geometricPrecision" fill="#4682b4" stroke="#4682b4" text-anchor="end">
<text x="1387" y="22">0.0</text>
<text x="1387" y="119">23.6</text>
<text x="1387" y="179">38.2</text>
<text x="1387" y="228">50.0</text>
<text x="1387" y="277">61.8</text>
<text x="1387" y="387">88.6</text>
</g>
<defs><linearGradient id="gOUL" gradientUnits="userSpaceOnUse" x1="-0.3580" y1="-0.3580" x2="-0.5000" y2="-0.5000"><stop offset="0" stop-color="#6f6f6f"/><stop offset="0.25" stop-color="#d4d4d4"/><stop offset="0.55" stop-color="#ffffff"/><stop offset="0.85" stop-color="#c8c8c8"/><stop offset="1" stop-color="#9a9a9a"/></linearGradient><linearGradient id="gOUR" gradientUnits="userSpaceOnUse" x1="0.3580" y1="-0.3580" x2="0.5000" y2="-0.5000"><stop offset="0" stop-color="#161616"/><stop offset="0.4" stop-color="#3a3a3a"/><stop offset="0.8" stop-color="#666666"/><stop offset="1" stop-color="#8c8c8c"/></linearGradient><linearGradient id="gOLR" gradientUnits="userSpaceOnUse" x1="0.3580" y1="0.3580" x2="0.5000" y2="0.5000"><stop offset="0" stop-color="#2a2004"/><stop offset="0.3" stop-color="#5e4c08"/><stop offset="0.7" stop-color="#8d780f"/><stop offset="1" stop-color="#b79e18"/></linearGradient><linearGradient id="gOLL" gradientUnits="userSpaceOnUse" x1="-0.3580" y1="0.3580" x2="-0.5000" y2="0.5000"><stop offset="0" stop-color="#7a6608"/><stop offset="0.3" stop-color="#c9b012"/><stop offset="0.6" stop-color="#e8d523"/><stop offset="1" stop-color="#c2a812"/></linearGradient><linearGradient id="gIUL" gradientUnits="userSpaceOnUse" x1="-0.2485" y1="-0.2485" x2="-0.3580" y2="-0.3580"><stop offset="0" stop-color="#9a9a9a"/><stop offset="0.5" stop-color="#3a3a3a"/><stop offset="1" stop-color="#101010"/></linearGradient><linearGradient id="gIUR" gradientUnits="userSpaceOnUse" x1="0.2485" y1="-0.2485" x2="0.3580" y2="-0.3580"><stop offset="0" stop-color="#ffffff"/><stop offset="0.5" stop-color="#e8e8e8"/><stop offset="1" stop-color="#b4b4b4"/></linearGradient><linearGradient id="gILR" gradientUnits="userSpaceOnUse" x1="0.2485" y1="0.2485" x2="0.3580" y2="0.3580"><stop offset="0" stop-color="#d1ba22"/><stop offset="0.5" stop-color="#a48c14"/><stop offset="1" stop-color="#6a5608"/></linearGradient><linearGradient id="gILL" gradientUnits="userSpaceOnUse" x1="-0.2485" y1="0.2485" x2="-0.3580" y2="0.3580"><stop offset="0" stop-color="#b09a20"/><stop offset="0.5" stop-color="#5a4610"/><stop offset="1" stop-color="#1e1204"/></linearGradient></defs>
<g transform="translate(1166.4 68.2) scale(29.4)"><path d="M-1.0000 0.0000L0.0000 -1.0000L0.0000 -0.7160L-0.7160 0.0000Z" fill="url(#gOUL)"/><path d="M0.0000 -1.0000L1.0000 0.0000L0.7160 0.0000L0.0000 -0.7160Z" fill="url(#gOUR)"/><path d="M1.0000 0.0000L0.0000 1.0000L0.0000 0.7160L0.7160 0.0000Z" fill="url(#gOLR)"/><path d="M0.0000 1.0000L-1.0000 0.0000L-0.7160 0.0000L0.0000 0.7160Z" fill="url(#gOLL)"/><path d="M-0.7160 0.0000L0.0000 -0.7160L0.0000 -0.4970L-0.4970 0.0000Z" fill="url(#gIUL)"/><path d="M0.0000 -0.7160L0.7160 0.0000L0.4970 0.0000L0.0000 -0.4970Z" fill="url(#gIUR)"/><path d="M0.7160 0.0000L0.0000 0.7160L0.0000 0.4970L0.4970 0.0000Z" fill="url(#gILR)"/><path d="M0.0000 0.7160L-0.7160 0.0000L-0.4970 0.0000L0.0000 0.4970Z" fill="url(#gILL)"/><path d="M0 -0.716L0.716 0L0 0.716L-0.716 0Z" fill="none" stroke="#1a1405" stroke-opacity="0.55" stroke-width="0.03"/><path d="M0 -1V-0.497M0 1V0.497" stroke="#222" stroke-opacity="0.5" stroke-width="0.025"/><path d="M0 -0.497L0.497 0L0 0.497L-0.497 0Z" fill="#fff"/><path d="M0 -0.312L0.312 0L0 0.312L-0.312 0ZM0 -0.176L0.176 0L0 0.176L-0.176 0Z" fill="#7ab51d" fill-rule="evenodd"/><path d="M-0.333 0H-0.146M0.146 0H0.333" stroke="#fff" stroke-width="0.04"/><path d="M0.02 -0.66Q0.08 -0.45 0.22 -0.36" fill="none" stroke="#333" stroke-opacity="0.7" stroke-width="0.03"/></g>
<text x="1208.6" y="64" font-size="21.2" font-weight="700" fill="#4c4f54" stroke="#4c4f54" stroke-width="0.8" stroke-linejoin="round" textLength="133.5" lengthAdjust="spacing">SINO SOUND</text>
<rect x="1222.9" y="46" width="5.6" height="5.4" fill="#fff"/>
<path d="M1223.9 51L1225 47.6H1228V49.6Z" fill="#8dc21f"/>
<text class="cj" y="87.3" font-size="20" font-weight="700" fill="#4c4f54" stroke="#4c4f54" stroke-width="0.3"><tspan x="1208.8">漢</tspan><tspan x="1246.6">聲</tspan><tspan x="1284.3">金</tspan><tspan x="1322.1">業</tspan></text>
<text x="1320.3" y="832.7" font-size="20.2" font-weight="700" fill="#fff"><tspan stroke="#eaf0da" stroke-width="0.5">S</tspan>INO SOUND</text>
<rect x="1388" y="821" width="1" height="9" fill="#fff"/>
<path d="M1333.6 821.6L1334.5 818.8H1336.3V820.3Z" fill="#8dc21f"/>
<text class="cj" y="849.6" font-size="16" font-weight="700" fill="#9a9a9a" stroke="#9a9a9a" stroke-width="0.3"><tspan x="1321.2">漢</tspan><tspan x="1350.8">聲</tspan><tspan x="1380.8">集</tspan><tspan x="1410.8">團</tspan></text>
<g transform="translate(1288 835) scale(23)"><path d="M-1.0000 0.0000L0.0000 -1.0000L0.0000 -0.7160L-0.7160 0.0000Z" fill="url(#gOUL)"/><path d="M0.0000 -1.0000L1.0000 0.0000L0.7160 0.0000L0.0000 -0.7160Z" fill="url(#gOUR)"/><path d="M1.0000 0.0000L0.0000 1.0000L0.0000 0.7160L0.7160 0.0000Z" fill="url(#gOLR)"/><path d="M0.0000 1.0000L-1.0000 0.0000L-0.7160 0.0000L0.0000 0.7160Z" fill="url(#gOLL)"/><path d="M-0.7160 0.0000L0.0000 -0.7160L0.0000 -0.4970L-0.4970 0.0000Z" fill="url(#gIUL)"/><path d="M0.0000 -0.7160L0.7160 0.0000L0.4970 0.0000L0.0000 -0.4970Z" fill="url(#gIUR)"/><path d="M0.7160 0.0000L0.0000 0.7160L0.0000 0.4970L0.4970 0.0000Z" fill="url(#gILR)"/><path d="M0.0000 0.7160L-0.7160 0.0000L-0.4970 0.0000L0.0000 0.4970Z" fill="url(#gILL)"/><path d="M0 -0.716L0.716 0L0 0.716L-0.716 0Z" fill="none" stroke="#1a1405" stroke-opacity="0.55" stroke-width="0.03"/><path d="M0 -1V-0.497M0 1V0.497" stroke="#222" stroke-opacity="0.5" stroke-width="0.025"/><path d="M0 -0.497L0.497 0L0 0.497L-0.497 0Z" fill="#fff"/><path d="M0 -0.312L0.312 0L0 0.312L-0.312 0ZM0 -0.176L0.176 0L0 0.176L-0.176 0Z" fill="#7ab51d" fill-rule="evenodd"/><path d="M-0.333 0H-0.146M0.146 0H0.333" stroke="#fff" stroke-width="0.04"/><path d="M0.02 -0.66Q0.08 -0.45 0.22 -0.36" fill="none" stroke="#333" stroke-opacity="0.7" stroke-width="0.03"/></g>
</svg>
</body></html>
